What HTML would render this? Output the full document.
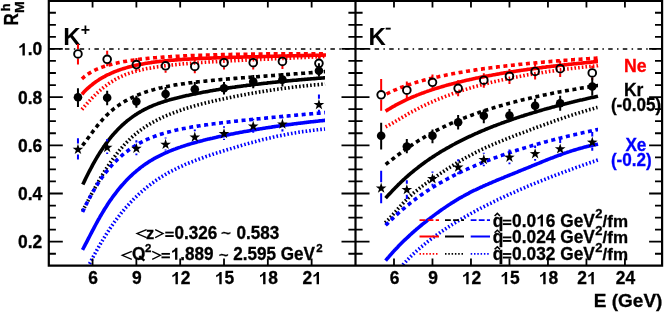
<!DOCTYPE html>
<html><head><meta charset="utf-8"><title>R_M^h</title>
<style>html,body{margin:0;padding:0;background:#fff;overflow:hidden}svg{will-change:transform}body{width:664px;height:312px;position:relative;font-family:"Liberation Sans",sans-serif}</style>
</head><body>
<svg width="664" height="312" viewBox="0 0 664 312" style="position:absolute;left:0;top:0;display:block" font-family="'Liberation Sans', sans-serif" font-weight="bold">
<rect x="0" y="0" width="664" height="312" fill="#fff"/>
<defs><clipPath id="cl"><rect x="48.8" y="0" width="306.7" height="265.6"/></clipPath><clipPath id="cr"><rect x="355.5" y="0" width="306.6" height="265.6"/></clipPath></defs>
<path d="M50.15,49.0 H355.5" stroke="#000" stroke-width="1.6" stroke-dasharray="4.5 4.4 1.5 4.35" fill="none"/>
<path d="M360,49.0 H662.1" stroke="#000" stroke-width="1.6" stroke-dasharray="4.5 4.3 1.5 4.3" fill="none"/>
<g clip-path="url(#cl)" fill="none">
<path d="M81.9,109.5 L82.9,108.3 L83.9,107.2 L84.9,106.0 L85.9,104.9 L86.9,103.7 L87.9,102.6 L88.9,101.5 L89.9,100.4 L90.9,99.3 L91.9,98.2 L92.9,97.2 L93.9,96.2 L94.9,95.2 L95.9,94.2 L96.9,93.2 L97.9,92.3 L98.9,91.4 L99.9,90.5 L100.9,89.7 L101.9,88.8 L102.9,88.0 L103.9,87.2 L104.9,86.4 L105.9,85.7 L106.9,84.9 L107.9,84.2 L108.9,83.5 L109.9,82.9 L110.9,82.2 L111.9,81.6 L112.9,81.0 L113.9,80.4 L114.9,79.8 L115.9,79.2 L116.9,78.7 L117.9,78.2 L118.9,77.6 L119.9,77.2 L120.9,76.7 L121.9,76.2 L122.9,75.8 L123.9,75.4 L124.9,74.9 L125.9,74.5 L126.9,74.2 L127.9,73.8 L128.9,73.4 L129.9,73.1 L130.9,72.7 L131.9,72.4 L132.9,72.1 L133.9,71.8 L134.9,71.5 L135.9,71.2 L136.9,71.0 L137.9,70.7 L138.9,70.4 L139.9,70.2 L140.9,69.9 L141.9,69.7 L142.9,69.5 L143.9,69.3 L144.9,69.0 L145.9,68.8 L146.9,68.6 L147.9,68.4 L148.9,68.2 L149.9,68.1 L150.9,67.9 L151.9,67.7 L152.9,67.5 L153.9,67.4 L154.9,67.2 L155.9,67.0 L156.9,66.9 L157.9,66.7 L158.9,66.6 L159.9,66.4 L160.9,66.3 L161.9,66.2 L162.9,66.0 L163.9,65.9 L164.9,65.8 L165.9,65.7 L166.9,65.5 L167.9,65.4 L168.9,65.3 L169.9,65.2 L170.9,65.1 L171.9,65.0 L172.9,64.9 L173.9,64.8 L174.9,64.7 L175.9,64.6 L176.9,64.5 L177.9,64.4 L178.9,64.3 L179.9,64.2 L180.9,64.1 L181.9,64.0 L182.9,63.9 L183.9,63.8 L184.9,63.7 L185.9,63.7 L186.9,63.6 L187.9,63.5 L188.9,63.4 L189.9,63.3 L190.9,63.3 L191.9,63.2 L192.9,63.1 L193.9,63.0 L194.9,63.0 L195.9,62.9 L196.9,62.8 L197.9,62.8 L198.9,62.7 L199.9,62.6 L200.9,62.5 L201.9,62.5 L202.9,62.4 L203.9,62.4 L204.9,62.3 L205.9,62.2 L206.9,62.2 L207.9,62.1 L208.9,62.0 L209.9,62.0 L210.9,61.9 L211.9,61.9 L212.9,61.8 L213.9,61.8 L214.9,61.7 L215.9,61.6 L216.9,61.6 L217.9,61.5 L218.9,61.5 L219.9,61.4 L220.9,61.4 L221.9,61.3 L222.9,61.3 L223.9,61.2 L224.9,61.2 L225.9,61.1 L226.9,61.1 L227.9,61.0 L228.9,60.9 L229.9,60.9 L230.9,60.8 L231.9,60.8 L232.9,60.7 L233.9,60.7 L234.9,60.6 L235.9,60.6 L236.9,60.6 L237.9,60.5 L238.9,60.5 L239.9,60.4 L240.9,60.4 L241.9,60.3 L242.9,60.3 L243.9,60.2 L244.9,60.2 L245.9,60.1 L246.9,60.1 L247.9,60.0 L248.9,60.0 L249.9,59.9 L250.9,59.9 L251.9,59.8 L252.9,59.8 L253.9,59.7 L254.9,59.7 L255.9,59.7 L256.9,59.6 L257.9,59.6 L258.9,59.5 L259.9,59.5 L260.9,59.4 L261.9,59.4 L262.9,59.3 L263.9,59.3 L264.9,59.2 L265.9,59.2 L266.9,59.1 L267.9,59.1 L268.9,59.1 L269.9,59.0 L270.9,59.0 L271.9,58.9 L272.9,58.9 L273.9,58.8 L274.9,58.8 L275.9,58.7 L276.9,58.7 L277.9,58.6 L278.9,58.6 L279.9,58.6 L280.9,58.5 L281.9,58.5 L282.9,58.4 L283.9,58.4 L284.9,58.3 L285.9,58.3 L286.9,58.2 L287.9,58.2 L288.9,58.1 L289.9,58.1 L290.9,58.1 L291.9,58.0 L292.9,58.0 L293.9,57.9 L294.9,57.9 L295.9,57.8 L296.9,57.8 L297.9,57.7 L298.9,57.7 L299.9,57.6 L300.9,57.6 L301.9,57.5 L302.9,57.5 L303.9,57.4 L304.9,57.4 L305.9,57.4 L306.9,57.3 L307.9,57.3 L308.9,57.2 L309.9,57.2 L310.9,57.1 L311.9,57.1 L312.9,57.0 L313.9,57.0 L314.9,56.9 L315.9,56.9 L316.9,56.8 L317.9,56.8 L318.9,56.7 L319.9,56.7 L320.9,56.6 L321.9,56.6 L322.9,56.5 L323.9,56.5 L324.9,56.5 L325.9,56.4 L326.0,56.4" stroke="#ff0000" stroke-width="3.6" stroke-dasharray="1.6 2.1"/>
<path d="M81.9,94.3 L82.9,93.2 L83.9,92.1 L84.9,91.1 L85.9,90.1 L86.9,89.1 L87.9,88.2 L88.9,87.3 L89.9,86.4 L90.9,85.6 L91.9,84.8 L92.9,84.0 L93.9,83.2 L94.9,82.5 L95.9,81.8 L96.9,81.1 L97.9,80.4 L98.9,79.8 L99.9,79.1 L100.9,78.5 L101.9,77.9 L102.9,77.4 L103.9,76.8 L104.9,76.3 L105.9,75.7 L106.9,75.2 L107.9,74.7 L108.9,74.3 L109.9,73.8 L110.9,73.3 L111.9,72.9 L112.9,72.5 L113.9,72.0 L114.9,71.6 L115.9,71.2 L116.9,70.9 L117.9,70.5 L118.9,70.1 L119.9,69.8 L120.9,69.4 L121.9,69.1 L122.9,68.8 L123.9,68.5 L124.9,68.2 L125.9,67.9 L126.9,67.6 L127.9,67.3 L128.9,67.0 L129.9,66.7 L130.9,66.5 L131.9,66.2 L132.9,66.0 L133.9,65.7 L134.9,65.5 L135.9,65.3 L136.9,65.1 L137.9,64.9 L138.9,64.6 L139.9,64.4 L140.9,64.2 L141.9,64.1 L142.9,63.9 L143.9,63.7 L144.9,63.5 L145.9,63.3 L146.9,63.2 L147.9,63.0 L148.9,62.9 L149.9,62.7 L150.9,62.6 L151.9,62.4 L152.9,62.3 L153.9,62.1 L154.9,62.0 L155.9,61.9 L156.9,61.8 L157.9,61.6 L158.9,61.5 L159.9,61.4 L160.9,61.3 L161.9,61.2 L162.9,61.1 L163.9,61.0 L164.9,60.9 L165.9,60.8 L166.9,60.7 L167.9,60.6 L168.9,60.5 L169.9,60.4 L170.9,60.3 L171.9,60.2 L172.9,60.2 L173.9,60.1 L174.9,60.0 L175.9,59.9 L176.9,59.9 L177.9,59.8 L178.9,59.7 L179.9,59.6 L180.9,59.6 L181.9,59.5 L182.9,59.4 L183.9,59.4 L184.9,59.3 L185.9,59.3 L186.9,59.2 L187.9,59.1 L188.9,59.1 L189.9,59.0 L190.9,59.0 L191.9,58.9 L192.9,58.9 L193.9,58.8 L194.9,58.8 L195.9,58.7 L196.9,58.7 L197.9,58.6 L198.9,58.6 L199.9,58.5 L200.9,58.5 L201.9,58.4 L202.9,58.4 L203.9,58.3 L204.9,58.3 L205.9,58.3 L206.9,58.2 L207.9,58.2 L208.9,58.1 L209.9,58.1 L210.9,58.1 L211.9,58.0 L212.9,58.0 L213.9,57.9 L214.9,57.9 L215.9,57.9 L216.9,57.8 L217.9,57.8 L218.9,57.8 L219.9,57.7 L220.9,57.7 L221.9,57.7 L222.9,57.6 L223.9,57.6 L224.9,57.6 L225.9,57.5 L226.9,57.5 L227.9,57.5 L228.9,57.4 L229.9,57.4 L230.9,57.4 L231.9,57.4 L232.9,57.3 L233.9,57.3 L234.9,57.3 L235.9,57.2 L236.9,57.2 L237.9,57.2 L238.9,57.2 L239.9,57.1 L240.9,57.1 L241.9,57.1 L242.9,57.0 L243.9,57.0 L244.9,57.0 L245.9,57.0 L246.9,56.9 L247.9,56.9 L248.9,56.9 L249.9,56.9 L250.9,56.8 L251.9,56.8 L252.9,56.8 L253.9,56.8 L254.9,56.7 L255.9,56.7 L256.9,56.7 L257.9,56.7 L258.9,56.6 L259.9,56.6 L260.9,56.6 L261.9,56.6 L262.9,56.5 L263.9,56.5 L264.9,56.5 L265.9,56.5 L266.9,56.4 L267.9,56.4 L268.9,56.4 L269.9,56.4 L270.9,56.3 L271.9,56.3 L272.9,56.3 L273.9,56.3 L274.9,56.2 L275.9,56.2 L276.9,56.2 L277.9,56.2 L278.9,56.1 L279.9,56.1 L280.9,56.1 L281.9,56.1 L282.9,56.1 L283.9,56.0 L284.9,56.0 L285.9,56.0 L286.9,56.0 L287.9,55.9 L288.9,55.9 L289.9,55.9 L290.9,55.9 L291.9,55.8 L292.9,55.8 L293.9,55.8 L294.9,55.8 L295.9,55.7 L296.9,55.7 L297.9,55.7 L298.9,55.7 L299.9,55.6 L300.9,55.6 L301.9,55.6 L302.9,55.6 L303.9,55.5 L304.9,55.5 L305.9,55.5 L306.9,55.5 L307.9,55.5 L308.9,55.4 L309.9,55.4 L310.9,55.4 L311.9,55.4 L312.9,55.3 L313.9,55.3 L314.9,55.3 L315.9,55.3 L316.9,55.2 L317.9,55.2 L318.9,55.2 L319.9,55.2 L320.9,55.1 L321.9,55.1 L322.9,55.1 L323.9,55.1 L324.9,55.0 L325.9,55.0 L326.0,55.0" stroke="#ff0000" stroke-width="3.6"/>
<path d="M81.9,78.9 L82.9,78.0 L83.9,77.1 L84.9,76.3 L85.9,75.6 L86.9,74.8 L87.9,74.1 L88.9,73.5 L89.9,72.9 L90.9,72.3 L91.9,71.7 L92.9,71.2 L93.9,70.6 L94.9,70.1 L95.9,69.7 L96.9,69.2 L97.9,68.8 L98.9,68.4 L99.9,68.0 L100.9,67.6 L101.9,67.2 L102.9,66.9 L103.9,66.5 L104.9,66.2 L105.9,65.9 L106.9,65.6 L107.9,65.3 L108.9,65.0 L109.9,64.7 L110.9,64.4 L111.9,64.2 L112.9,63.9 L113.9,63.7 L114.9,63.4 L115.9,63.2 L116.9,63.0 L117.9,62.8 L118.9,62.6 L119.9,62.4 L120.9,62.2 L121.9,62.0 L122.9,61.8 L123.9,61.6 L124.9,61.4 L125.9,61.2 L126.9,61.1 L127.9,60.9 L128.9,60.8 L129.9,60.6 L130.9,60.5 L131.9,60.3 L132.9,60.2 L133.9,60.0 L134.9,59.9 L135.9,59.8 L136.9,59.6 L137.9,59.5 L138.9,59.4 L139.9,59.3 L140.9,59.1 L141.9,59.0 L142.9,58.9 L143.9,58.8 L144.9,58.7 L145.9,58.6 L146.9,58.5 L147.9,58.4 L148.9,58.3 L149.9,58.2 L150.9,58.1 L151.9,58.0 L152.9,57.9 L153.9,57.8 L154.9,57.8 L155.9,57.7 L156.9,57.6 L157.9,57.5 L158.9,57.4 L159.9,57.4 L160.9,57.3 L161.9,57.2 L162.9,57.1 L163.9,57.1 L164.9,57.0 L165.9,56.9 L166.9,56.9 L167.9,56.8 L168.9,56.7 L169.9,56.7 L170.9,56.6 L171.9,56.6 L172.9,56.5 L173.9,56.4 L174.9,56.4 L175.9,56.3 L176.9,56.3 L177.9,56.2 L178.9,56.2 L179.9,56.1 L180.9,56.1 L181.9,56.0 L182.9,56.0 L183.9,55.9 L184.9,55.9 L185.9,55.8 L186.9,55.8 L187.9,55.7 L188.9,55.7 L189.9,55.7 L190.9,55.6 L191.9,55.6 L192.9,55.5 L193.9,55.5 L194.9,55.5 L195.9,55.4 L196.9,55.4 L197.9,55.3 L198.9,55.3 L199.9,55.3 L200.9,55.2 L201.9,55.2 L202.9,55.2 L203.9,55.1 L204.9,55.1 L205.9,55.1 L206.9,55.0 L207.9,55.0 L208.9,55.0 L209.9,55.0 L210.9,54.9 L211.9,54.9 L212.9,54.9 L213.9,54.8 L214.9,54.8 L215.9,54.8 L216.9,54.8 L217.9,54.7 L218.9,54.7 L219.9,54.7 L220.9,54.7 L221.9,54.6 L222.9,54.6 L223.9,54.6 L224.9,54.6 L225.9,54.6 L226.9,54.5 L227.9,54.5 L228.9,54.5 L229.9,54.5 L230.9,54.5 L231.9,54.4 L232.9,54.4 L233.9,54.4 L234.9,54.4 L235.9,54.4 L236.9,54.3 L237.9,54.3 L238.9,54.3 L239.9,54.3 L240.9,54.3 L241.9,54.3 L242.9,54.2 L243.9,54.2 L244.9,54.2 L245.9,54.2 L246.9,54.2 L247.9,54.2 L248.9,54.2 L249.9,54.1 L250.9,54.1 L251.9,54.1 L252.9,54.1 L253.9,54.1 L254.9,54.1 L255.9,54.1 L256.9,54.1 L257.9,54.0 L258.9,54.0 L259.9,54.0 L260.9,54.0 L261.9,54.0 L262.9,54.0 L263.9,54.0 L264.9,54.0 L265.9,54.0 L266.9,53.9 L267.9,53.9 L268.9,53.9 L269.9,53.9 L270.9,53.9 L271.9,53.9 L272.9,53.9 L273.9,53.9 L274.9,53.9 L275.9,53.9 L276.9,53.9 L277.9,53.9 L278.9,53.8 L279.9,53.8 L280.9,53.8 L281.9,53.8 L282.9,53.8 L283.9,53.8 L284.9,53.8 L285.9,53.8 L286.9,53.8 L287.9,53.8 L288.9,53.8 L289.9,53.8 L290.9,53.8 L291.9,53.8 L292.9,53.8 L293.9,53.8 L294.9,53.7 L295.9,53.7 L296.9,53.7 L297.9,53.7 L298.9,53.7 L299.9,53.7 L300.9,53.7 L301.9,53.7 L302.9,53.7 L303.9,53.7 L304.9,53.7 L305.9,53.7 L306.9,53.7 L307.9,53.7 L308.9,53.7 L309.9,53.7 L310.9,53.7 L311.9,53.7 L312.9,53.7 L313.9,53.7 L314.9,53.7 L315.9,53.7 L316.9,53.7 L317.9,53.7 L318.9,53.7 L319.9,53.7 L320.9,53.7 L321.9,53.7 L322.9,53.7 L323.9,53.7 L324.9,53.7 L325.9,53.7 L326.0,53.7" stroke="#ff0000" stroke-width="3.6" stroke-dasharray="4 3.55"/>
<path d="M82.5,210.9 L83.5,209.2 L84.5,207.3 L85.5,205.5 L86.5,203.6 L87.5,201.7 L88.5,199.8 L89.5,197.9 L90.5,196.1 L91.5,194.2 L92.5,192.3 L93.5,190.5 L94.5,188.6 L95.5,186.8 L96.5,185.0 L97.5,183.2 L98.5,181.5 L99.5,179.7 L100.5,178.0 L101.5,176.4 L102.5,174.7 L103.5,173.1 L104.5,171.5 L105.5,169.9 L106.5,168.3 L107.5,166.8 L108.5,165.3 L109.5,163.8 L110.5,162.3 L111.5,160.9 L112.5,159.5 L113.5,158.1 L114.5,156.8 L115.5,155.4 L116.5,154.1 L117.5,152.8 L118.5,151.6 L119.5,150.3 L120.5,149.1 L121.5,148.0 L122.5,146.8 L123.5,145.7 L124.5,144.6 L125.5,143.5 L126.5,142.5 L127.5,141.5 L128.5,140.5 L129.5,139.5 L130.5,138.5 L131.5,137.6 L132.5,136.7 L133.5,135.8 L134.5,135.0 L135.5,134.1 L136.5,133.3 L137.5,132.5 L138.5,131.7 L139.5,131.0 L140.5,130.2 L141.5,129.5 L142.5,128.8 L143.5,128.1 L144.5,127.4 L145.5,126.7 L146.5,126.1 L147.5,125.4 L148.5,124.8 L149.5,124.2 L150.5,123.6 L151.5,123.0 L152.5,122.4 L153.5,121.9 L154.5,121.3 L155.5,120.8 L156.5,120.3 L157.5,119.8 L158.5,119.3 L159.5,118.8 L160.5,118.3 L161.5,117.8 L162.5,117.4 L163.5,116.9 L164.5,116.5 L165.5,116.0 L166.5,115.6 L167.5,115.2 L168.5,114.7 L169.5,114.3 L170.5,113.9 L171.5,113.5 L172.5,113.2 L173.5,112.8 L174.5,112.4 L175.5,112.0 L176.5,111.7 L177.5,111.3 L178.5,110.9 L179.5,110.6 L180.5,110.3 L181.5,109.9 L182.5,109.6 L183.5,109.3 L184.5,108.9 L185.5,108.6 L186.5,108.3 L187.5,108.0 L188.5,107.7 L189.5,107.4 L190.5,107.1 L191.5,106.8 L192.5,106.5 L193.5,106.2 L194.5,105.9 L195.5,105.7 L196.5,105.4 L197.5,105.1 L198.5,104.8 L199.5,104.6 L200.5,104.3 L201.5,104.0 L202.5,103.8 L203.5,103.5 L204.5,103.3 L205.5,103.0 L206.5,102.8 L207.5,102.5 L208.5,102.3 L209.5,102.0 L210.5,101.8 L211.5,101.6 L212.5,101.3 L213.5,101.1 L214.5,100.9 L215.5,100.6 L216.5,100.4 L217.5,100.2 L218.5,100.0 L219.5,99.7 L220.5,99.5 L221.5,99.3 L222.5,99.1 L223.5,98.9 L224.5,98.7 L225.5,98.4 L226.5,98.2 L227.5,98.0 L228.5,97.8 L229.5,97.6 L230.5,97.4 L231.5,97.2 L232.5,97.0 L233.5,96.8 L234.5,96.6 L235.5,96.4 L236.5,96.2 L237.5,96.0 L238.5,95.8 L239.5,95.6 L240.5,95.4 L241.5,95.2 L242.5,95.1 L243.5,94.9 L244.5,94.7 L245.5,94.5 L246.5,94.3 L247.5,94.1 L248.5,93.9 L249.5,93.8 L250.5,93.6 L251.5,93.4 L252.5,93.2 L253.5,93.1 L254.5,92.9 L255.5,92.7 L256.5,92.5 L257.5,92.4 L258.5,92.2 L259.5,92.0 L260.5,91.9 L261.5,91.7 L262.5,91.5 L263.5,91.4 L264.5,91.2 L265.5,91.1 L266.5,90.9 L267.5,90.8 L268.5,90.6 L269.5,90.4 L270.5,90.3 L271.5,90.1 L272.5,90.0 L273.5,89.8 L274.5,89.7 L275.5,89.6 L276.5,89.4 L277.5,89.3 L278.5,89.1 L279.5,89.0 L280.5,88.9 L281.5,88.7 L282.5,88.6 L283.5,88.4 L284.5,88.3 L285.5,88.2 L286.5,88.1 L287.5,87.9 L288.5,87.8 L289.5,87.7 L290.5,87.5 L291.5,87.4 L292.5,87.3 L293.5,87.2 L294.5,87.1 L295.5,86.9 L296.5,86.8 L297.5,86.7 L298.5,86.6 L299.5,86.5 L300.5,86.4 L301.5,86.3 L302.5,86.2 L303.5,86.0 L304.5,85.9 L305.5,85.8 L306.5,85.7 L307.5,85.6 L308.5,85.5 L309.5,85.4 L310.5,85.3 L311.5,85.2 L312.5,85.1 L313.5,85.0 L314.5,84.9 L315.5,84.9 L316.5,84.8 L317.5,84.7 L318.5,84.6 L319.5,84.5 L320.5,84.4 L321.5,84.3 L322.5,84.2 L323.5,84.2 L324.5,84.1 L325.0,84.0" stroke="#000000" stroke-width="3.6" stroke-dasharray="1.6 2.1"/>
<path d="M82.8,184.5 L83.8,182.4 L84.8,180.4 L85.8,178.3 L86.8,176.3 L87.8,174.3 L88.8,172.3 L89.8,170.4 L90.8,168.5 L91.8,166.6 L92.8,164.7 L93.8,162.9 L94.8,161.1 L95.8,159.4 L96.8,157.7 L97.8,156.0 L98.8,154.4 L99.8,152.8 L100.8,151.2 L101.8,149.7 L102.8,148.2 L103.8,146.7 L104.8,145.3 L105.8,143.9 L106.8,142.6 L107.8,141.2 L108.8,139.9 L109.8,138.7 L110.8,137.4 L111.8,136.2 L112.8,135.0 L113.8,133.9 L114.8,132.8 L115.8,131.7 L116.8,130.6 L117.8,129.5 L118.8,128.5 L119.8,127.5 L120.8,126.6 L121.8,125.6 L122.8,124.7 L123.8,123.8 L124.8,122.9 L125.8,122.1 L126.8,121.2 L127.8,120.4 L128.8,119.6 L129.8,118.9 L130.8,118.1 L131.8,117.4 L132.8,116.6 L133.8,115.9 L134.8,115.3 L135.8,114.6 L136.8,114.0 L137.8,113.3 L138.8,112.7 L139.8,112.1 L140.8,111.5 L141.8,111.0 L142.8,110.4 L143.8,109.9 L144.8,109.3 L145.8,108.8 L146.8,108.3 L147.8,107.9 L148.8,107.4 L149.8,106.9 L150.8,106.5 L151.8,106.1 L152.8,105.6 L153.8,105.2 L154.8,104.8 L155.8,104.4 L156.8,104.1 L157.8,103.7 L158.8,103.3 L159.8,103.0 L160.8,102.6 L161.8,102.3 L162.8,102.0 L163.8,101.6 L164.8,101.3 L165.8,101.0 L166.8,100.7 L167.8,100.4 L168.8,100.1 L169.8,99.8 L170.8,99.6 L171.8,99.3 L172.8,99.0 L173.8,98.8 L174.8,98.5 L175.8,98.2 L176.8,98.0 L177.8,97.7 L178.8,97.5 L179.8,97.2 L180.8,97.0 L181.8,96.8 L182.8,96.5 L183.8,96.3 L184.8,96.1 L185.8,95.8 L186.8,95.6 L187.8,95.4 L188.8,95.2 L189.8,94.9 L190.8,94.7 L191.8,94.5 L192.8,94.3 L193.8,94.1 L194.8,93.9 L195.8,93.7 L196.8,93.5 L197.8,93.3 L198.8,93.1 L199.8,92.9 L200.8,92.7 L201.8,92.5 L202.8,92.3 L203.8,92.1 L204.8,91.9 L205.8,91.7 L206.8,91.6 L207.8,91.4 L208.8,91.2 L209.8,91.0 L210.8,90.8 L211.8,90.7 L212.8,90.5 L213.8,90.3 L214.8,90.2 L215.8,90.0 L216.8,89.8 L217.8,89.7 L218.8,89.5 L219.8,89.3 L220.8,89.2 L221.8,89.0 L222.8,88.9 L223.8,88.7 L224.8,88.5 L225.8,88.4 L226.8,88.2 L227.8,88.1 L228.8,87.9 L229.8,87.8 L230.8,87.6 L231.8,87.5 L232.8,87.3 L233.8,87.2 L234.8,87.1 L235.8,86.9 L236.8,86.8 L237.8,86.6 L238.8,86.5 L239.8,86.4 L240.8,86.2 L241.8,86.1 L242.8,86.0 L243.8,85.8 L244.8,85.7 L245.8,85.6 L246.8,85.4 L247.8,85.3 L248.8,85.2 L249.8,85.1 L250.8,84.9 L251.8,84.8 L252.8,84.7 L253.8,84.6 L254.8,84.4 L255.8,84.3 L256.8,84.2 L257.8,84.1 L258.8,84.0 L259.8,83.9 L260.8,83.7 L261.8,83.6 L262.8,83.5 L263.8,83.4 L264.8,83.3 L265.8,83.2 L266.8,83.1 L267.8,82.9 L268.8,82.8 L269.8,82.7 L270.8,82.6 L271.8,82.5 L272.8,82.4 L273.8,82.3 L274.8,82.2 L275.8,82.1 L276.8,82.0 L277.8,81.9 L278.8,81.8 L279.8,81.7 L280.8,81.6 L281.8,81.5 L282.8,81.4 L283.8,81.3 L284.8,81.2 L285.8,81.1 L286.8,81.0 L287.8,80.9 L288.8,80.8 L289.8,80.7 L290.8,80.6 L291.8,80.5 L292.8,80.4 L293.8,80.3 L294.8,80.2 L295.8,80.2 L296.8,80.1 L297.8,80.0 L298.8,79.9 L299.8,79.8 L300.8,79.7 L301.8,79.6 L302.8,79.5 L303.8,79.5 L304.8,79.4 L305.8,79.3 L306.8,79.2 L307.8,79.1 L308.8,79.0 L309.8,79.0 L310.8,78.9 L311.8,78.8 L312.8,78.7 L313.8,78.6 L314.8,78.6 L315.8,78.5 L316.8,78.4 L317.8,78.3 L318.8,78.3 L319.8,78.2 L320.8,78.1 L321.8,78.0 L322.8,78.0 L323.8,77.9 L324.8,77.8 L325.0,77.8" stroke="#000000" stroke-width="3.6"/>
<path d="M82.5,145.5 L83.5,144.2 L84.5,142.9 L85.5,141.6 L86.5,140.2 L87.5,138.9 L88.5,137.5 L89.5,136.1 L90.5,134.7 L91.5,133.3 L92.5,132.0 L93.5,130.6 L94.5,129.3 L95.5,128.0 L96.5,126.8 L97.5,125.5 L98.5,124.3 L99.5,123.1 L100.5,121.9 L101.5,120.8 L102.5,119.6 L103.5,118.5 L104.5,117.5 L105.5,116.4 L106.5,115.4 L107.5,114.5 L108.5,113.5 L109.5,112.6 L110.5,111.7 L111.5,110.8 L112.5,109.9 L113.5,109.1 L114.5,108.3 L115.5,107.6 L116.5,106.8 L117.5,106.1 L118.5,105.4 L119.5,104.7 L120.5,104.0 L121.5,103.4 L122.5,102.7 L123.5,102.1 L124.5,101.5 L125.5,100.9 L126.5,100.4 L127.5,99.8 L128.5,99.3 L129.5,98.8 L130.5,98.3 L131.5,97.8 L132.5,97.3 L133.5,96.8 L134.5,96.4 L135.5,95.9 L136.5,95.5 L137.5,95.1 L138.5,94.7 L139.5,94.3 L140.5,93.9 L141.5,93.5 L142.5,93.1 L143.5,92.8 L144.5,92.4 L145.5,92.1 L146.5,91.8 L147.5,91.4 L148.5,91.1 L149.5,90.8 L150.5,90.5 L151.5,90.2 L152.5,89.9 L153.5,89.7 L154.5,89.4 L155.5,89.1 L156.5,88.9 L157.5,88.6 L158.5,88.4 L159.5,88.1 L160.5,87.9 L161.5,87.7 L162.5,87.4 L163.5,87.2 L164.5,87.0 L165.5,86.8 L166.5,86.6 L167.5,86.4 L168.5,86.2 L169.5,86.0 L170.5,85.8 L171.5,85.6 L172.5,85.5 L173.5,85.3 L174.5,85.1 L175.5,84.9 L176.5,84.8 L177.5,84.6 L178.5,84.5 L179.5,84.3 L180.5,84.2 L181.5,84.0 L182.5,83.9 L183.5,83.7 L184.5,83.6 L185.5,83.4 L186.5,83.3 L187.5,83.2 L188.5,83.0 L189.5,82.9 L190.5,82.8 L191.5,82.7 L192.5,82.5 L193.5,82.4 L194.5,82.3 L195.5,82.2 L196.5,82.1 L197.5,81.9 L198.5,81.8 L199.5,81.7 L200.5,81.6 L201.5,81.5 L202.5,81.4 L203.5,81.3 L204.5,81.2 L205.5,81.1 L206.5,81.0 L207.5,80.9 L208.5,80.8 L209.5,80.7 L210.5,80.6 L211.5,80.5 L212.5,80.4 L213.5,80.3 L214.5,80.2 L215.5,80.1 L216.5,80.0 L217.5,79.9 L218.5,79.8 L219.5,79.7 L220.5,79.6 L221.5,79.5 L222.5,79.5 L223.5,79.4 L224.5,79.3 L225.5,79.2 L226.5,79.1 L227.5,79.0 L228.5,78.9 L229.5,78.9 L230.5,78.8 L231.5,78.7 L232.5,78.6 L233.5,78.5 L234.5,78.4 L235.5,78.4 L236.5,78.3 L237.5,78.2 L238.5,78.1 L239.5,78.0 L240.5,78.0 L241.5,77.9 L242.5,77.8 L243.5,77.7 L244.5,77.7 L245.5,77.6 L246.5,77.5 L247.5,77.4 L248.5,77.3 L249.5,77.3 L250.5,77.2 L251.5,77.1 L252.5,77.0 L253.5,77.0 L254.5,76.9 L255.5,76.8 L256.5,76.7 L257.5,76.7 L258.5,76.6 L259.5,76.5 L260.5,76.4 L261.5,76.4 L262.5,76.3 L263.5,76.2 L264.5,76.1 L265.5,76.1 L266.5,76.0 L267.5,75.9 L268.5,75.8 L269.5,75.8 L270.5,75.7 L271.5,75.6 L272.5,75.5 L273.5,75.5 L274.5,75.4 L275.5,75.3 L276.5,75.2 L277.5,75.2 L278.5,75.1 L279.5,75.0 L280.5,75.0 L281.5,74.9 L282.5,74.8 L283.5,74.7 L284.5,74.7 L285.5,74.6 L286.5,74.5 L287.5,74.4 L288.5,74.4 L289.5,74.3 L290.5,74.2 L291.5,74.1 L292.5,74.1 L293.5,74.0 L294.5,73.9 L295.5,73.8 L296.5,73.8 L297.5,73.7 L298.5,73.6 L299.5,73.5 L300.5,73.5 L301.5,73.4 L302.5,73.3 L303.5,73.2 L304.5,73.2 L305.5,73.1 L306.5,73.0 L307.5,72.9 L308.5,72.9 L309.5,72.8 L310.5,72.7 L311.5,72.6 L312.5,72.6 L313.5,72.5 L314.5,72.4 L315.5,72.3 L316.5,72.2 L317.5,72.2 L318.5,72.1 L319.5,72.0 L320.5,71.9 L321.5,71.9 L322.5,71.8 L323.5,71.7 L324.5,71.6 L325.0,71.6" stroke="#000000" stroke-width="3.6" stroke-dasharray="4 3.55"/>
<path d="M84.0,273.5 L85.0,271.8 L86.0,270.0 L87.0,268.3 L88.0,266.4 L89.0,264.6 L90.0,262.8 L91.0,260.9 L92.0,259.1 L93.0,257.2 L94.0,255.4 L95.0,253.5 L96.0,251.7 L97.0,249.9 L98.0,248.2 L99.0,246.4 L100.0,244.7 L101.0,242.9 L102.0,241.3 L103.0,239.6 L104.0,237.9 L105.0,236.3 L106.0,234.7 L107.0,233.1 L108.0,231.6 L109.0,230.0 L110.0,228.5 L111.0,227.0 L112.0,225.6 L113.0,224.1 L114.0,222.7 L115.0,221.3 L116.0,220.0 L117.0,218.6 L118.0,217.3 L119.0,216.0 L120.0,214.7 L121.0,213.4 L122.0,212.2 L123.0,211.0 L124.0,209.8 L125.0,208.6 L126.0,207.4 L127.0,206.3 L128.0,205.2 L129.0,204.1 L130.0,203.0 L131.0,201.9 L132.0,200.9 L133.0,199.9 L134.0,198.8 L135.0,197.8 L136.0,196.9 L137.0,195.9 L138.0,195.0 L139.0,194.0 L140.0,193.1 L141.0,192.2 L142.0,191.3 L143.0,190.5 L144.0,189.6 L145.0,188.8 L146.0,187.9 L147.0,187.1 L148.0,186.3 L149.0,185.6 L150.0,184.8 L151.0,184.0 L152.0,183.3 L153.0,182.6 L154.0,181.8 L155.0,181.1 L156.0,180.4 L157.0,179.7 L158.0,179.1 L159.0,178.4 L160.0,177.8 L161.0,177.1 L162.0,176.5 L163.0,175.9 L164.0,175.3 L165.0,174.7 L166.0,174.1 L167.0,173.5 L168.0,173.0 L169.0,172.4 L170.0,171.9 L171.0,171.3 L172.0,170.8 L173.0,170.3 L174.0,169.8 L175.0,169.3 L176.0,168.8 L177.0,168.3 L178.0,167.8 L179.0,167.3 L180.0,166.9 L181.0,166.4 L182.0,166.0 L183.0,165.5 L184.0,165.1 L185.0,164.6 L186.0,164.2 L187.0,163.8 L188.0,163.4 L189.0,163.0 L190.0,162.6 L191.0,162.2 L192.0,161.8 L193.0,161.4 L194.0,161.0 L195.0,160.6 L196.0,160.2 L197.0,159.8 L198.0,159.5 L199.0,159.1 L200.0,158.7 L201.0,158.4 L202.0,158.0 L203.0,157.7 L204.0,157.3 L205.0,157.0 L206.0,156.6 L207.0,156.3 L208.0,155.9 L209.0,155.6 L210.0,155.2 L211.0,154.9 L212.0,154.6 L213.0,154.2 L214.0,153.9 L215.0,153.6 L216.0,153.3 L217.0,152.9 L218.0,152.6 L219.0,152.3 L220.0,152.0 L221.0,151.7 L222.0,151.3 L223.0,151.0 L224.0,150.7 L225.0,150.4 L226.0,150.1 L227.0,149.8 L228.0,149.5 L229.0,149.2 L230.0,148.9 L231.0,148.6 L232.0,148.3 L233.0,148.0 L234.0,147.7 L235.0,147.4 L236.0,147.1 L237.0,146.8 L238.0,146.5 L239.0,146.2 L240.0,145.9 L241.0,145.6 L242.0,145.3 L243.0,145.0 L244.0,144.7 L245.0,144.4 L246.0,144.1 L247.0,143.9 L248.0,143.6 L249.0,143.3 L250.0,143.0 L251.0,142.7 L252.0,142.5 L253.0,142.2 L254.0,141.9 L255.0,141.7 L256.0,141.4 L257.0,141.1 L258.0,140.9 L259.0,140.6 L260.0,140.4 L261.0,140.1 L262.0,139.9 L263.0,139.6 L264.0,139.4 L265.0,139.1 L266.0,138.9 L267.0,138.6 L268.0,138.4 L269.0,138.1 L270.0,137.9 L271.0,137.7 L272.0,137.5 L273.0,137.2 L274.0,137.0 L275.0,136.8 L276.0,136.6 L277.0,136.3 L278.0,136.1 L279.0,135.9 L280.0,135.7 L281.0,135.5 L282.0,135.3 L283.0,135.1 L284.0,134.9 L285.0,134.7 L286.0,134.5 L287.0,134.3 L288.0,134.1 L289.0,133.9 L290.0,133.8 L291.0,133.6 L292.0,133.4 L293.0,133.2 L294.0,133.1 L295.0,132.9 L296.0,132.7 L297.0,132.6 L298.0,132.4 L299.0,132.2 L300.0,132.1 L301.0,131.9 L302.0,131.8 L303.0,131.6 L304.0,131.5 L305.0,131.3 L306.0,131.2 L307.0,131.1 L308.0,130.9 L309.0,130.8 L310.0,130.7 L311.0,130.5 L312.0,130.4 L313.0,130.3 L314.0,130.2 L315.0,130.1 L316.0,129.9 L317.0,129.8 L318.0,129.7 L319.0,129.6 L320.0,129.5 L321.0,129.4 L322.0,129.3 L323.0,129.2 L324.0,129.1 L325.0,129.0" stroke="#0000ff" stroke-width="3.6" stroke-dasharray="1.6 2.1"/>
<path d="M82.5,249.8 L83.5,248.0 L84.5,246.1 L85.5,244.2 L86.5,242.3 L87.5,240.4 L88.5,238.4 L89.5,236.5 L90.5,234.5 L91.5,232.6 L92.5,230.7 L93.5,228.8 L94.5,226.9 L95.5,225.0 L96.5,223.2 L97.5,221.3 L98.5,219.5 L99.5,217.8 L100.5,216.0 L101.5,214.3 L102.5,212.6 L103.5,211.0 L104.5,209.3 L105.5,207.7 L106.5,206.2 L107.5,204.6 L108.5,203.1 L109.5,201.6 L110.5,200.1 L111.5,198.7 L112.5,197.3 L113.5,195.9 L114.5,194.6 L115.5,193.3 L116.5,192.0 L117.5,190.7 L118.5,189.4 L119.5,188.2 L120.5,187.0 L121.5,185.8 L122.5,184.7 L123.5,183.6 L124.5,182.5 L125.5,181.4 L126.5,180.3 L127.5,179.3 L128.5,178.3 L129.5,177.3 L130.5,176.3 L131.5,175.4 L132.5,174.4 L133.5,173.5 L134.5,172.6 L135.5,171.8 L136.5,170.9 L137.5,170.1 L138.5,169.3 L139.5,168.5 L140.5,167.7 L141.5,166.9 L142.5,166.2 L143.5,165.4 L144.5,164.7 L145.5,164.0 L146.5,163.4 L147.5,162.7 L148.5,162.0 L149.5,161.4 L150.5,160.8 L151.5,160.2 L152.5,159.6 L153.5,159.0 L154.5,158.4 L155.5,157.9 L156.5,157.3 L157.5,156.8 L158.5,156.3 L159.5,155.8 L160.5,155.3 L161.5,154.8 L162.5,154.3 L163.5,153.9 L164.5,153.4 L165.5,152.9 L166.5,152.5 L167.5,152.1 L168.5,151.6 L169.5,151.2 L170.5,150.8 L171.5,150.4 L172.5,150.0 L173.5,149.6 L174.5,149.2 L175.5,148.9 L176.5,148.5 L177.5,148.1 L178.5,147.8 L179.5,147.4 L180.5,147.1 L181.5,146.7 L182.5,146.4 L183.5,146.1 L184.5,145.8 L185.5,145.4 L186.5,145.1 L187.5,144.8 L188.5,144.5 L189.5,144.2 L190.5,143.9 L191.5,143.6 L192.5,143.3 L193.5,143.0 L194.5,142.7 L195.5,142.5 L196.5,142.2 L197.5,141.9 L198.5,141.6 L199.5,141.4 L200.5,141.1 L201.5,140.9 L202.5,140.6 L203.5,140.3 L204.5,140.1 L205.5,139.8 L206.5,139.6 L207.5,139.3 L208.5,139.1 L209.5,138.9 L210.5,138.6 L211.5,138.4 L212.5,138.2 L213.5,137.9 L214.5,137.7 L215.5,137.5 L216.5,137.3 L217.5,137.0 L218.5,136.8 L219.5,136.6 L220.5,136.4 L221.5,136.2 L222.5,135.9 L223.5,135.7 L224.5,135.5 L225.5,135.3 L226.5,135.1 L227.5,134.9 L228.5,134.7 L229.5,134.5 L230.5,134.3 L231.5,134.1 L232.5,133.9 L233.5,133.7 L234.5,133.5 L235.5,133.3 L236.5,133.1 L237.5,132.9 L238.5,132.7 L239.5,132.5 L240.5,132.3 L241.5,132.2 L242.5,132.0 L243.5,131.8 L244.5,131.6 L245.5,131.4 L246.5,131.2 L247.5,131.1 L248.5,130.9 L249.5,130.7 L250.5,130.5 L251.5,130.3 L252.5,130.2 L253.5,130.0 L254.5,129.8 L255.5,129.7 L256.5,129.5 L257.5,129.3 L258.5,129.1 L259.5,129.0 L260.5,128.8 L261.5,128.7 L262.5,128.5 L263.5,128.3 L264.5,128.2 L265.5,128.0 L266.5,127.8 L267.5,127.7 L268.5,127.5 L269.5,127.4 L270.5,127.2 L271.5,127.1 L272.5,126.9 L273.5,126.8 L274.5,126.6 L275.5,126.5 L276.5,126.3 L277.5,126.2 L278.5,126.0 L279.5,125.9 L280.5,125.7 L281.5,125.6 L282.5,125.5 L283.5,125.3 L284.5,125.2 L285.5,125.0 L286.5,124.9 L287.5,124.8 L288.5,124.6 L289.5,124.5 L290.5,124.4 L291.5,124.2 L292.5,124.1 L293.5,124.0 L294.5,123.8 L295.5,123.7 L296.5,123.6 L297.5,123.5 L298.5,123.3 L299.5,123.2 L300.5,123.1 L301.5,123.0 L302.5,122.9 L303.5,122.7 L304.5,122.6 L305.5,122.5 L306.5,122.4 L307.5,122.3 L308.5,122.1 L309.5,122.0 L310.5,121.9 L311.5,121.8 L312.5,121.7 L313.5,121.6 L314.5,121.5 L315.5,121.4 L316.5,121.3 L317.5,121.2 L318.5,121.0 L319.5,120.9 L320.5,120.8 L321.5,120.7 L322.5,120.6 L323.5,120.5 L324.5,120.4 L325.0,120.4" stroke="#0000ff" stroke-width="3.6"/>
<path d="M82.5,212.1 L83.5,210.0 L84.5,207.9 L85.5,205.8 L86.5,203.8 L87.5,201.8 L88.5,199.9 L89.5,198.0 L90.5,196.1 L91.5,194.3 L92.5,192.5 L93.5,190.8 L94.5,189.1 L95.5,187.4 L96.5,185.8 L97.5,184.2 L98.5,182.6 L99.5,181.1 L100.5,179.7 L101.5,178.2 L102.5,176.8 L103.5,175.5 L104.5,174.1 L105.5,172.8 L106.5,171.5 L107.5,170.3 L108.5,169.1 L109.5,167.9 L110.5,166.8 L111.5,165.6 L112.5,164.5 L113.5,163.5 L114.5,162.4 L115.5,161.4 L116.5,160.4 L117.5,159.4 L118.5,158.5 L119.5,157.6 L120.5,156.7 L121.5,155.8 L122.5,154.9 L123.5,154.1 L124.5,153.3 L125.5,152.5 L126.5,151.7 L127.5,151.0 L128.5,150.2 L129.5,149.5 L130.5,148.8 L131.5,148.1 L132.5,147.4 L133.5,146.8 L134.5,146.2 L135.5,145.5 L136.5,144.9 L137.5,144.4 L138.5,143.8 L139.5,143.2 L140.5,142.7 L141.5,142.1 L142.5,141.6 L143.5,141.1 L144.5,140.6 L145.5,140.2 L146.5,139.7 L147.5,139.2 L148.5,138.8 L149.5,138.4 L150.5,137.9 L151.5,137.5 L152.5,137.1 L153.5,136.8 L154.5,136.4 L155.5,136.0 L156.5,135.7 L157.5,135.3 L158.5,135.0 L159.5,134.6 L160.5,134.3 L161.5,134.0 L162.5,133.7 L163.5,133.4 L164.5,133.1 L165.5,132.8 L166.5,132.5 L167.5,132.3 L168.5,132.0 L169.5,131.7 L170.5,131.5 L171.5,131.2 L172.5,131.0 L173.5,130.8 L174.5,130.5 L175.5,130.3 L176.5,130.1 L177.5,129.8 L178.5,129.6 L179.5,129.4 L180.5,129.2 L181.5,129.0 L182.5,128.8 L183.5,128.6 L184.5,128.4 L185.5,128.2 L186.5,128.0 L187.5,127.8 L188.5,127.6 L189.5,127.5 L190.5,127.3 L191.5,127.1 L192.5,126.9 L193.5,126.8 L194.5,126.6 L195.5,126.5 L196.5,126.3 L197.5,126.1 L198.5,126.0 L199.5,125.8 L200.5,125.7 L201.5,125.5 L202.5,125.4 L203.5,125.2 L204.5,125.1 L205.5,124.9 L206.5,124.8 L207.5,124.7 L208.5,124.5 L209.5,124.4 L210.5,124.2 L211.5,124.1 L212.5,124.0 L213.5,123.8 L214.5,123.7 L215.5,123.6 L216.5,123.5 L217.5,123.3 L218.5,123.2 L219.5,123.1 L220.5,123.0 L221.5,122.8 L222.5,122.7 L223.5,122.6 L224.5,122.5 L225.5,122.3 L226.5,122.2 L227.5,122.1 L228.5,122.0 L229.5,121.9 L230.5,121.8 L231.5,121.6 L232.5,121.5 L233.5,121.4 L234.5,121.3 L235.5,121.2 L236.5,121.1 L237.5,121.0 L238.5,120.9 L239.5,120.8 L240.5,120.6 L241.5,120.5 L242.5,120.4 L243.5,120.3 L244.5,120.2 L245.5,120.1 L246.5,120.0 L247.5,119.9 L248.5,119.8 L249.5,119.7 L250.5,119.6 L251.5,119.5 L252.5,119.4 L253.5,119.3 L254.5,119.2 L255.5,119.1 L256.5,119.0 L257.5,118.9 L258.5,118.8 L259.5,118.7 L260.5,118.6 L261.5,118.5 L262.5,118.4 L263.5,118.3 L264.5,118.2 L265.5,118.1 L266.5,118.0 L267.5,117.9 L268.5,117.8 L269.5,117.7 L270.5,117.6 L271.5,117.5 L272.5,117.4 L273.5,117.3 L274.5,117.2 L275.5,117.1 L276.5,117.0 L277.5,116.9 L278.5,116.8 L279.5,116.7 L280.5,116.6 L281.5,116.5 L282.5,116.4 L283.5,116.3 L284.5,116.2 L285.5,116.1 L286.5,116.0 L287.5,116.0 L288.5,115.9 L289.5,115.8 L290.5,115.7 L291.5,115.6 L292.5,115.5 L293.5,115.4 L294.5,115.3 L295.5,115.2 L296.5,115.1 L297.5,115.0 L298.5,114.9 L299.5,114.9 L300.5,114.8 L301.5,114.7 L302.5,114.6 L303.5,114.5 L304.5,114.4 L305.5,114.3 L306.5,114.2 L307.5,114.1 L308.5,114.1 L309.5,114.0 L310.5,113.9 L311.5,113.8 L312.5,113.7 L313.5,113.6 L314.5,113.5 L315.5,113.4 L316.5,113.3 L317.5,113.3 L318.5,113.2 L319.5,113.1 L320.5,113.0 L321.5,112.9 L322.5,112.8 L323.5,112.7 L324.5,112.6 L325.0,112.6" stroke="#0000ff" stroke-width="3.6" stroke-dasharray="4 3.55"/>
</g>
<g clip-path="url(#cr)" fill="none">
<path d="M385.6,126.9 L386.6,126.4 L387.6,125.9 L388.6,125.4 L389.6,124.8 L390.6,124.2 L391.6,123.7 L392.6,123.1 L393.6,122.5 L394.6,121.9 L395.6,121.3 L396.6,120.7 L397.6,120.1 L398.6,119.5 L399.6,118.9 L400.6,118.3 L401.6,117.7 L402.6,117.1 L403.6,116.5 L404.6,115.9 L405.6,115.4 L406.6,114.8 L407.6,114.2 L408.6,113.6 L409.6,113.1 L410.6,112.5 L411.6,112.0 L412.6,111.4 L413.6,110.9 L414.6,110.3 L415.6,109.8 L416.6,109.3 L417.6,108.8 L418.6,108.3 L419.6,107.7 L420.6,107.2 L421.6,106.7 L422.6,106.3 L423.6,105.8 L424.6,105.3 L425.6,104.8 L426.6,104.3 L427.6,103.9 L428.6,103.4 L429.6,103.0 L430.6,102.5 L431.6,102.1 L432.6,101.6 L433.6,101.2 L434.6,100.7 L435.6,100.3 L436.6,99.9 L437.6,99.5 L438.6,99.1 L439.6,98.7 L440.6,98.3 L441.6,97.9 L442.6,97.5 L443.6,97.1 L444.6,96.7 L445.6,96.3 L446.6,95.9 L447.6,95.5 L448.6,95.2 L449.6,94.8 L450.6,94.4 L451.6,94.1 L452.6,93.7 L453.6,93.4 L454.6,93.0 L455.6,92.7 L456.6,92.3 L457.6,92.0 L458.6,91.7 L459.6,91.3 L460.6,91.0 L461.6,90.7 L462.6,90.4 L463.6,90.0 L464.6,89.7 L465.6,89.4 L466.6,89.1 L467.6,88.8 L468.6,88.5 L469.6,88.2 L470.6,87.9 L471.6,87.6 L472.6,87.3 L473.6,87.0 L474.6,86.8 L475.6,86.5 L476.6,86.2 L477.6,85.9 L478.6,85.7 L479.6,85.4 L480.6,85.1 L481.6,84.8 L482.6,84.6 L483.6,84.3 L484.6,84.1 L485.6,83.8 L486.6,83.6 L487.6,83.3 L488.6,83.1 L489.6,82.8 L490.6,82.6 L491.6,82.3 L492.6,82.1 L493.6,81.8 L494.6,81.6 L495.6,81.4 L496.6,81.2 L497.6,80.9 L498.6,80.7 L499.6,80.5 L500.6,80.2 L501.6,80.0 L502.6,79.8 L503.6,79.6 L504.6,79.4 L505.6,79.2 L506.6,79.0 L507.6,78.7 L508.6,78.5 L509.6,78.3 L510.6,78.1 L511.6,77.9 L512.6,77.7 L513.6,77.5 L514.6,77.3 L515.6,77.1 L516.6,77.0 L517.6,76.8 L518.6,76.6 L519.6,76.4 L520.6,76.2 L521.6,76.0 L522.6,75.8 L523.6,75.6 L524.6,75.5 L525.6,75.3 L526.6,75.1 L527.6,74.9 L528.6,74.8 L529.6,74.6 L530.6,74.4 L531.6,74.3 L532.6,74.1 L533.6,73.9 L534.6,73.8 L535.6,73.6 L536.6,73.4 L537.6,73.3 L538.6,73.1 L539.6,72.9 L540.6,72.8 L541.6,72.6 L542.6,72.5 L543.6,72.3 L544.6,72.2 L545.6,72.0 L546.6,71.9 L547.6,71.7 L548.6,71.6 L549.6,71.4 L550.6,71.3 L551.6,71.1 L552.6,71.0 L553.6,70.9 L554.6,70.7 L555.6,70.6 L556.6,70.4 L557.6,70.3 L558.6,70.2 L559.6,70.0 L560.6,69.9 L561.6,69.8 L562.6,69.6 L563.6,69.5 L564.6,69.4 L565.6,69.3 L566.6,69.1 L567.6,69.0 L568.6,68.9 L569.6,68.8 L570.6,68.6 L571.6,68.5 L572.6,68.4 L573.6,68.3 L574.6,68.1 L575.6,68.0 L576.6,67.9 L577.6,67.8 L578.6,67.7 L579.6,67.6 L580.6,67.5 L581.6,67.3 L582.6,67.2 L583.6,67.1 L584.6,67.0 L585.6,66.9 L586.6,66.8 L587.6,66.7 L588.6,66.6 L589.6,66.5 L590.6,66.4 L591.6,66.3 L592.6,66.2 L593.6,66.1 L594.6,66.0 L595.6,65.9 L596.6,65.8 L597.6,65.7 L598.0,65.6" stroke="#ff0000" stroke-width="3.6" stroke-dasharray="1.6 2.1"/>
<path d="M385.6,111.2 L386.6,110.5 L387.6,109.9 L388.6,109.3 L389.6,108.7 L390.6,108.1 L391.6,107.5 L392.6,106.9 L393.6,106.3 L394.6,105.8 L395.6,105.2 L396.6,104.7 L397.6,104.1 L398.6,103.6 L399.6,103.1 L400.6,102.6 L401.6,102.1 L402.6,101.6 L403.6,101.1 L404.6,100.6 L405.6,100.1 L406.6,99.7 L407.6,99.2 L408.6,98.7 L409.6,98.3 L410.6,97.9 L411.6,97.4 L412.6,97.0 L413.6,96.6 L414.6,96.2 L415.6,95.8 L416.6,95.3 L417.6,94.9 L418.6,94.6 L419.6,94.2 L420.6,93.8 L421.6,93.4 L422.6,93.0 L423.6,92.7 L424.6,92.3 L425.6,91.9 L426.6,91.6 L427.6,91.2 L428.6,90.9 L429.6,90.6 L430.6,90.2 L431.6,89.9 L432.6,89.6 L433.6,89.2 L434.6,88.9 L435.6,88.6 L436.6,88.3 L437.6,88.0 L438.6,87.7 L439.6,87.4 L440.6,87.1 L441.6,86.8 L442.6,86.5 L443.6,86.2 L444.6,85.9 L445.6,85.6 L446.6,85.3 L447.6,85.1 L448.6,84.8 L449.6,84.5 L450.6,84.2 L451.6,84.0 L452.6,83.7 L453.6,83.5 L454.6,83.2 L455.6,82.9 L456.6,82.7 L457.6,82.4 L458.6,82.2 L459.6,82.0 L460.6,81.7 L461.6,81.5 L462.6,81.2 L463.6,81.0 L464.6,80.8 L465.6,80.5 L466.6,80.3 L467.6,80.1 L468.6,79.9 L469.6,79.6 L470.6,79.4 L471.6,79.2 L472.6,79.0 L473.6,78.8 L474.6,78.6 L475.6,78.3 L476.6,78.1 L477.6,77.9 L478.6,77.7 L479.6,77.5 L480.6,77.3 L481.6,77.1 L482.6,76.9 L483.6,76.7 L484.6,76.5 L485.6,76.3 L486.6,76.1 L487.6,76.0 L488.6,75.8 L489.6,75.6 L490.6,75.4 L491.6,75.2 L492.6,75.0 L493.6,74.8 L494.6,74.7 L495.6,74.5 L496.6,74.3 L497.6,74.1 L498.6,74.0 L499.6,73.8 L500.6,73.6 L501.6,73.4 L502.6,73.3 L503.6,73.1 L504.6,72.9 L505.6,72.8 L506.6,72.6 L507.6,72.5 L508.6,72.3 L509.6,72.1 L510.6,72.0 L511.6,71.8 L512.6,71.7 L513.6,71.5 L514.6,71.4 L515.6,71.2 L516.6,71.0 L517.6,70.9 L518.6,70.7 L519.6,70.6 L520.6,70.5 L521.6,70.3 L522.6,70.2 L523.6,70.0 L524.6,69.9 L525.6,69.7 L526.6,69.6 L527.6,69.4 L528.6,69.3 L529.6,69.2 L530.6,69.0 L531.6,68.9 L532.6,68.8 L533.6,68.6 L534.6,68.5 L535.6,68.4 L536.6,68.2 L537.6,68.1 L538.6,68.0 L539.6,67.8 L540.6,67.7 L541.6,67.6 L542.6,67.4 L543.6,67.3 L544.6,67.2 L545.6,67.1 L546.6,66.9 L547.6,66.8 L548.6,66.7 L549.6,66.6 L550.6,66.5 L551.6,66.3 L552.6,66.2 L553.6,66.1 L554.6,66.0 L555.6,65.9 L556.6,65.7 L557.6,65.6 L558.6,65.5 L559.6,65.4 L560.6,65.3 L561.6,65.2 L562.6,65.1 L563.6,65.0 L564.6,64.8 L565.6,64.7 L566.6,64.6 L567.6,64.5 L568.6,64.4 L569.6,64.3 L570.6,64.2 L571.6,64.1 L572.6,64.0 L573.6,63.9 L574.6,63.8 L575.6,63.7 L576.6,63.6 L577.6,63.5 L578.6,63.4 L579.6,63.3 L580.6,63.2 L581.6,63.1 L582.6,63.0 L583.6,62.9 L584.6,62.8 L585.6,62.7 L586.6,62.6 L587.6,62.5 L588.6,62.4 L589.6,62.3 L590.6,62.2 L591.6,62.1 L592.6,62.0 L593.6,61.9 L594.6,61.8 L595.6,61.7 L596.6,61.6 L597.6,61.5 L598.0,61.5" stroke="#ff0000" stroke-width="3.6"/>
<path d="M386.5,94.0 L387.5,93.5 L388.5,93.0 L389.5,92.5 L390.5,92.0 L391.5,91.6 L392.5,91.1 L393.5,90.6 L394.5,90.2 L395.5,89.8 L396.5,89.4 L397.5,88.9 L398.5,88.5 L399.5,88.1 L400.5,87.7 L401.5,87.3 L402.5,87.0 L403.5,86.6 L404.5,86.2 L405.5,85.9 L406.5,85.5 L407.5,85.2 L408.5,84.8 L409.5,84.5 L410.5,84.2 L411.5,83.8 L412.5,83.5 L413.5,83.2 L414.5,82.9 L415.5,82.6 L416.5,82.3 L417.5,82.0 L418.5,81.7 L419.5,81.4 L420.5,81.1 L421.5,80.9 L422.5,80.6 L423.5,80.3 L424.5,80.0 L425.5,79.8 L426.5,79.5 L427.5,79.3 L428.5,79.0 L429.5,78.8 L430.5,78.5 L431.5,78.3 L432.5,78.0 L433.5,77.8 L434.5,77.6 L435.5,77.3 L436.5,77.1 L437.5,76.9 L438.5,76.7 L439.5,76.4 L440.5,76.2 L441.5,76.0 L442.5,75.8 L443.5,75.6 L444.5,75.4 L445.5,75.2 L446.5,75.0 L447.5,74.8 L448.5,74.6 L449.5,74.4 L450.5,74.2 L451.5,74.0 L452.5,73.8 L453.5,73.6 L454.5,73.4 L455.5,73.2 L456.5,73.1 L457.5,72.9 L458.5,72.7 L459.5,72.5 L460.5,72.4 L461.5,72.2 L462.5,72.0 L463.5,71.8 L464.5,71.7 L465.5,71.5 L466.5,71.3 L467.5,71.2 L468.5,71.0 L469.5,70.9 L470.5,70.7 L471.5,70.6 L472.5,70.4 L473.5,70.2 L474.5,70.1 L475.5,69.9 L476.5,69.8 L477.5,69.6 L478.5,69.5 L479.5,69.4 L480.5,69.2 L481.5,69.1 L482.5,68.9 L483.5,68.8 L484.5,68.6 L485.5,68.5 L486.5,68.4 L487.5,68.2 L488.5,68.1 L489.5,68.0 L490.5,67.8 L491.5,67.7 L492.5,67.6 L493.5,67.5 L494.5,67.3 L495.5,67.2 L496.5,67.1 L497.5,66.9 L498.5,66.8 L499.5,66.7 L500.5,66.6 L501.5,66.5 L502.5,66.3 L503.5,66.2 L504.5,66.1 L505.5,66.0 L506.5,65.9 L507.5,65.8 L508.5,65.6 L509.5,65.5 L510.5,65.4 L511.5,65.3 L512.5,65.2 L513.5,65.1 L514.5,65.0 L515.5,64.9 L516.5,64.8 L517.5,64.7 L518.5,64.5 L519.5,64.4 L520.5,64.3 L521.5,64.2 L522.5,64.1 L523.5,64.0 L524.5,63.9 L525.5,63.8 L526.5,63.7 L527.5,63.6 L528.5,63.5 L529.5,63.4 L530.5,63.3 L531.5,63.2 L532.5,63.1 L533.5,63.0 L534.5,63.0 L535.5,62.9 L536.5,62.8 L537.5,62.7 L538.5,62.6 L539.5,62.5 L540.5,62.4 L541.5,62.3 L542.5,62.2 L543.5,62.1 L544.5,62.0 L545.5,62.0 L546.5,61.9 L547.5,61.8 L548.5,61.7 L549.5,61.6 L550.5,61.5 L551.5,61.4 L552.5,61.4 L553.5,61.3 L554.5,61.2 L555.5,61.1 L556.5,61.0 L557.5,60.9 L558.5,60.9 L559.5,60.8 L560.5,60.7 L561.5,60.6 L562.5,60.5 L563.5,60.5 L564.5,60.4 L565.5,60.3 L566.5,60.2 L567.5,60.2 L568.5,60.1 L569.5,60.0 L570.5,59.9 L571.5,59.9 L572.5,59.8 L573.5,59.7 L574.5,59.6 L575.5,59.6 L576.5,59.5 L577.5,59.4 L578.5,59.3 L579.5,59.3 L580.5,59.2 L581.5,59.1 L582.5,59.1 L583.5,59.0 L584.5,58.9 L585.5,58.9 L586.5,58.8 L587.5,58.7 L588.5,58.7 L589.5,58.6 L590.5,58.5 L591.5,58.5 L592.5,58.4 L593.5,58.3 L594.5,58.3 L595.5,58.2 L596.5,58.1 L597.5,58.1 L598.0,58.0" stroke="#ff0000" stroke-width="3.6" stroke-dasharray="4 3.55"/>
<path d="M385.0,222.6 L386.0,221.8 L387.0,220.9 L388.0,219.9 L389.0,218.9 L390.0,217.8 L391.0,216.7 L392.0,215.6 L393.0,214.5 L394.0,213.3 L395.0,212.2 L396.0,211.1 L397.0,209.9 L398.0,208.8 L399.0,207.7 L400.0,206.5 L401.0,205.4 L402.0,204.4 L403.0,203.3 L404.0,202.2 L405.0,201.2 L406.0,200.2 L407.0,199.2 L408.0,198.2 L409.0,197.2 L410.0,196.3 L411.0,195.4 L412.0,194.5 L413.0,193.6 L414.0,192.7 L415.0,191.9 L416.0,191.1 L417.0,190.3 L418.0,189.5 L419.0,188.7 L420.0,187.9 L421.0,187.1 L422.0,186.4 L423.0,185.6 L424.0,184.9 L425.0,184.2 L426.0,183.4 L427.0,182.7 L428.0,182.0 L429.0,181.3 L430.0,180.6 L431.0,179.9 L432.0,179.2 L433.0,178.5 L434.0,177.8 L435.0,177.1 L436.0,176.5 L437.0,175.8 L438.0,175.1 L439.0,174.4 L440.0,173.7 L441.0,173.1 L442.0,172.4 L443.0,171.7 L444.0,171.1 L445.0,170.4 L446.0,169.8 L447.0,169.1 L448.0,168.5 L449.0,167.8 L450.0,167.2 L451.0,166.6 L452.0,165.9 L453.0,165.3 L454.0,164.7 L455.0,164.1 L456.0,163.5 L457.0,162.8 L458.0,162.2 L459.0,161.7 L460.0,161.1 L461.0,160.5 L462.0,159.9 L463.0,159.3 L464.0,158.8 L465.0,158.2 L466.0,157.6 L467.0,157.1 L468.0,156.5 L469.0,156.0 L470.0,155.4 L471.0,154.9 L472.0,154.4 L473.0,153.9 L474.0,153.3 L475.0,152.8 L476.0,152.3 L477.0,151.8 L478.0,151.3 L479.0,150.8 L480.0,150.4 L481.0,149.9 L482.0,149.4 L483.0,148.9 L484.0,148.5 L485.0,148.0 L486.0,147.5 L487.0,147.1 L488.0,146.6 L489.0,146.2 L490.0,145.7 L491.0,145.3 L492.0,144.9 L493.0,144.4 L494.0,144.0 L495.0,143.6 L496.0,143.2 L497.0,142.8 L498.0,142.3 L499.0,141.9 L500.0,141.5 L501.0,141.1 L502.0,140.7 L503.0,140.3 L504.0,139.9 L505.0,139.5 L506.0,139.1 L507.0,138.7 L508.0,138.3 L509.0,137.9 L510.0,137.5 L511.0,137.1 L512.0,136.8 L513.0,136.4 L514.0,136.0 L515.0,135.6 L516.0,135.2 L517.0,134.8 L518.0,134.5 L519.0,134.1 L520.0,133.7 L521.0,133.3 L522.0,132.9 L523.0,132.6 L524.0,132.2 L525.0,131.8 L526.0,131.4 L527.0,131.1 L528.0,130.7 L529.0,130.3 L530.0,129.9 L531.0,129.6 L532.0,129.2 L533.0,128.8 L534.0,128.4 L535.0,128.1 L536.0,127.7 L537.0,127.3 L538.0,127.0 L539.0,126.6 L540.0,126.2 L541.0,125.9 L542.0,125.5 L543.0,125.1 L544.0,124.8 L545.0,124.4 L546.0,124.0 L547.0,123.7 L548.0,123.3 L549.0,123.0 L550.0,122.6 L551.0,122.3 L552.0,121.9 L553.0,121.6 L554.0,121.2 L555.0,120.8 L556.0,120.5 L557.0,120.2 L558.0,119.8 L559.0,119.5 L560.0,119.1 L561.0,118.8 L562.0,118.4 L563.0,118.1 L564.0,117.8 L565.0,117.4 L566.0,117.1 L567.0,116.8 L568.0,116.4 L569.0,116.1 L570.0,115.8 L571.0,115.4 L572.0,115.1 L573.0,114.8 L574.0,114.5 L575.0,114.1 L576.0,113.8 L577.0,113.5 L578.0,113.2 L579.0,112.9 L580.0,112.6 L581.0,112.3 L582.0,112.0 L583.0,111.6 L584.0,111.3 L585.0,111.0 L586.0,110.7 L587.0,110.4 L588.0,110.1 L589.0,109.8 L590.0,109.5 L591.0,109.3 L592.0,109.0 L593.0,108.7 L594.0,108.4 L595.0,108.1 L596.0,107.8 L597.0,107.5 L597.5,107.4" stroke="#000000" stroke-width="3.6" stroke-dasharray="1.6 2.1"/>
<path d="M385.6,198.1 L386.6,197.0 L387.6,195.9 L388.6,194.8 L389.6,193.7 L390.6,192.7 L391.6,191.6 L392.6,190.5 L393.6,189.5 L394.6,188.5 L395.6,187.4 L396.6,186.4 L397.6,185.4 L398.6,184.4 L399.6,183.5 L400.6,182.5 L401.6,181.5 L402.6,180.6 L403.6,179.7 L404.6,178.8 L405.6,177.8 L406.6,177.0 L407.6,176.1 L408.6,175.2 L409.6,174.3 L410.6,173.5 L411.6,172.6 L412.6,171.8 L413.6,171.0 L414.6,170.2 L415.6,169.4 L416.6,168.6 L417.6,167.8 L418.6,167.0 L419.6,166.2 L420.6,165.5 L421.6,164.7 L422.6,164.0 L423.6,163.3 L424.6,162.5 L425.6,161.8 L426.6,161.1 L427.6,160.4 L428.6,159.7 L429.6,159.0 L430.6,158.3 L431.6,157.7 L432.6,157.0 L433.6,156.4 L434.6,155.7 L435.6,155.1 L436.6,154.4 L437.6,153.8 L438.6,153.2 L439.6,152.5 L440.6,151.9 L441.6,151.3 L442.6,150.7 L443.6,150.1 L444.6,149.6 L445.6,149.0 L446.6,148.4 L447.6,147.8 L448.6,147.3 L449.6,146.7 L450.6,146.1 L451.6,145.6 L452.6,145.0 L453.6,144.5 L454.6,144.0 L455.6,143.4 L456.6,142.9 L457.6,142.4 L458.6,141.9 L459.6,141.4 L460.6,140.9 L461.6,140.4 L462.6,139.9 L463.6,139.4 L464.6,138.9 L465.6,138.4 L466.6,137.9 L467.6,137.4 L468.6,136.9 L469.6,136.5 L470.6,136.0 L471.6,135.6 L472.6,135.1 L473.6,134.6 L474.6,134.2 L475.6,133.7 L476.6,133.3 L477.6,132.9 L478.6,132.4 L479.6,132.0 L480.6,131.5 L481.6,131.1 L482.6,130.7 L483.6,130.3 L484.6,129.9 L485.6,129.4 L486.6,129.0 L487.6,128.6 L488.6,128.2 L489.6,127.8 L490.6,127.4 L491.6,127.0 L492.6,126.6 L493.6,126.2 L494.6,125.8 L495.6,125.5 L496.6,125.1 L497.6,124.7 L498.6,124.3 L499.6,123.9 L500.6,123.6 L501.6,123.2 L502.6,122.8 L503.6,122.5 L504.6,122.1 L505.6,121.7 L506.6,121.4 L507.6,121.0 L508.6,120.7 L509.6,120.3 L510.6,120.0 L511.6,119.6 L512.6,119.3 L513.6,118.9 L514.6,118.6 L515.6,118.3 L516.6,117.9 L517.6,117.6 L518.6,117.3 L519.6,116.9 L520.6,116.6 L521.6,116.3 L522.6,116.0 L523.6,115.7 L524.6,115.3 L525.6,115.0 L526.6,114.7 L527.6,114.4 L528.6,114.1 L529.6,113.8 L530.6,113.5 L531.6,113.2 L532.6,112.9 L533.6,112.6 L534.6,112.3 L535.6,112.0 L536.6,111.7 L537.6,111.4 L538.6,111.1 L539.6,110.8 L540.6,110.5 L541.6,110.2 L542.6,109.9 L543.6,109.6 L544.6,109.3 L545.6,109.1 L546.6,108.8 L547.6,108.5 L548.6,108.2 L549.6,108.0 L550.6,107.7 L551.6,107.4 L552.6,107.1 L553.6,106.9 L554.6,106.6 L555.6,106.3 L556.6,106.1 L557.6,105.8 L558.6,105.5 L559.6,105.3 L560.6,105.0 L561.6,104.8 L562.6,104.5 L563.6,104.3 L564.6,104.0 L565.6,103.8 L566.6,103.5 L567.6,103.3 L568.6,103.0 L569.6,102.8 L570.6,102.5 L571.6,102.3 L572.6,102.0 L573.6,101.8 L574.6,101.5 L575.6,101.3 L576.6,101.1 L577.6,100.8 L578.6,100.6 L579.6,100.3 L580.6,100.1 L581.6,99.9 L582.6,99.7 L583.6,99.4 L584.6,99.2 L585.6,99.0 L586.6,98.7 L587.6,98.5 L588.6,98.3 L589.6,98.1 L590.6,97.8 L591.6,97.6 L592.6,97.4 L593.6,97.2 L594.6,97.0 L595.6,96.7 L596.6,96.5 L597.6,96.3 L598.0,96.2" stroke="#000000" stroke-width="3.6"/>
<path d="M385.6,164.4 L386.6,163.7 L387.6,162.9 L388.6,162.2 L389.6,161.4 L390.6,160.7 L391.6,159.9 L392.6,159.1 L393.6,158.3 L394.6,157.6 L395.6,156.8 L396.6,156.0 L397.6,155.3 L398.6,154.5 L399.6,153.8 L400.6,153.0 L401.6,152.3 L402.6,151.5 L403.6,150.8 L404.6,150.1 L405.6,149.4 L406.6,148.6 L407.6,147.9 L408.6,147.2 L409.6,146.5 L410.6,145.9 L411.6,145.2 L412.6,144.5 L413.6,143.8 L414.6,143.2 L415.6,142.5 L416.6,141.9 L417.6,141.3 L418.6,140.6 L419.6,140.0 L420.6,139.4 L421.6,138.8 L422.6,138.2 L423.6,137.6 L424.6,137.0 L425.6,136.4 L426.6,135.8 L427.6,135.3 L428.6,134.7 L429.6,134.2 L430.6,133.6 L431.6,133.1 L432.6,132.5 L433.6,132.0 L434.6,131.4 L435.6,130.9 L436.6,130.4 L437.6,129.9 L438.6,129.4 L439.6,128.9 L440.6,128.4 L441.6,127.9 L442.6,127.4 L443.6,126.9 L444.6,126.4 L445.6,126.0 L446.6,125.5 L447.6,125.0 L448.6,124.6 L449.6,124.1 L450.6,123.7 L451.6,123.2 L452.6,122.8 L453.6,122.4 L454.6,121.9 L455.6,121.5 L456.6,121.1 L457.6,120.7 L458.6,120.2 L459.6,119.8 L460.6,119.4 L461.6,119.0 L462.6,118.6 L463.6,118.2 L464.6,117.8 L465.6,117.4 L466.6,117.0 L467.6,116.7 L468.6,116.3 L469.6,115.9 L470.6,115.5 L471.6,115.2 L472.6,114.8 L473.6,114.4 L474.6,114.1 L475.6,113.7 L476.6,113.4 L477.6,113.0 L478.6,112.7 L479.6,112.3 L480.6,112.0 L481.6,111.7 L482.6,111.3 L483.6,111.0 L484.6,110.7 L485.6,110.3 L486.6,110.0 L487.6,109.7 L488.6,109.4 L489.6,109.0 L490.6,108.7 L491.6,108.4 L492.6,108.1 L493.6,107.8 L494.6,107.5 L495.6,107.2 L496.6,106.9 L497.6,106.6 L498.6,106.3 L499.6,106.0 L500.6,105.7 L501.6,105.4 L502.6,105.2 L503.6,104.9 L504.6,104.6 L505.6,104.3 L506.6,104.0 L507.6,103.8 L508.6,103.5 L509.6,103.2 L510.6,103.0 L511.6,102.7 L512.6,102.4 L513.6,102.2 L514.6,101.9 L515.6,101.6 L516.6,101.4 L517.6,101.1 L518.6,100.9 L519.6,100.6 L520.6,100.4 L521.6,100.1 L522.6,99.9 L523.6,99.6 L524.6,99.4 L525.6,99.2 L526.6,98.9 L527.6,98.7 L528.6,98.5 L529.6,98.2 L530.6,98.0 L531.6,97.8 L532.6,97.5 L533.6,97.3 L534.6,97.1 L535.6,96.9 L536.6,96.6 L537.6,96.4 L538.6,96.2 L539.6,96.0 L540.6,95.8 L541.6,95.6 L542.6,95.3 L543.6,95.1 L544.6,94.9 L545.6,94.7 L546.6,94.5 L547.6,94.3 L548.6,94.1 L549.6,93.9 L550.6,93.7 L551.6,93.5 L552.6,93.3 L553.6,93.1 L554.6,92.9 L555.6,92.7 L556.6,92.5 L557.6,92.3 L558.6,92.1 L559.6,91.9 L560.6,91.7 L561.6,91.6 L562.6,91.4 L563.6,91.2 L564.6,91.0 L565.6,90.8 L566.6,90.6 L567.6,90.5 L568.6,90.3 L569.6,90.1 L570.6,89.9 L571.6,89.7 L572.6,89.6 L573.6,89.4 L574.6,89.2 L575.6,89.1 L576.6,88.9 L577.6,88.7 L578.6,88.5 L579.6,88.4 L580.6,88.2 L581.6,88.0 L582.6,87.9 L583.6,87.7 L584.6,87.6 L585.6,87.4 L586.6,87.2 L587.6,87.1 L588.6,86.9 L589.6,86.8 L590.6,86.6 L591.6,86.4 L592.6,86.3 L593.6,86.1 L594.6,86.0 L595.6,85.8 L596.6,85.7 L597.6,85.5 L598.0,85.5" stroke="#000000" stroke-width="3.6" stroke-dasharray="4 3.55"/>
<path d="M396.0,273.5 L397.0,272.1 L398.0,270.8 L399.0,269.6 L400.0,268.3 L401.0,267.1 L402.0,265.9 L403.0,264.8 L404.0,263.6 L405.0,262.5 L406.0,261.4 L407.0,260.3 L408.0,259.3 L409.0,258.3 L410.0,257.3 L411.0,256.3 L412.0,255.3 L413.0,254.3 L414.0,253.4 L415.0,252.5 L416.0,251.5 L417.0,250.6 L418.0,249.7 L419.0,248.9 L420.0,248.0 L421.0,247.1 L422.0,246.3 L423.0,245.5 L424.0,244.6 L425.0,243.8 L426.0,243.0 L427.0,242.2 L428.0,241.4 L429.0,240.7 L430.0,239.9 L431.0,239.1 L432.0,238.4 L433.0,237.6 L434.0,236.9 L435.0,236.2 L436.0,235.4 L437.0,234.7 L438.0,234.0 L439.0,233.3 L440.0,232.6 L441.0,231.9 L442.0,231.2 L443.0,230.6 L444.0,229.9 L445.0,229.2 L446.0,228.6 L447.0,227.9 L448.0,227.2 L449.0,226.6 L450.0,226.0 L451.0,225.3 L452.0,224.7 L453.0,224.1 L454.0,223.4 L455.0,222.8 L456.0,222.2 L457.0,221.6 L458.0,221.0 L459.0,220.4 L460.0,219.8 L461.0,219.2 L462.0,218.6 L463.0,218.0 L464.0,217.5 L465.0,216.9 L466.0,216.3 L467.0,215.7 L468.0,215.2 L469.0,214.6 L470.0,214.1 L471.0,213.5 L472.0,213.0 L473.0,212.4 L474.0,211.9 L475.0,211.3 L476.0,210.8 L477.0,210.2 L478.0,209.7 L479.0,209.2 L480.0,208.7 L481.0,208.1 L482.0,207.6 L483.0,207.1 L484.0,206.6 L485.0,206.1 L486.0,205.6 L487.0,205.1 L488.0,204.5 L489.0,204.0 L490.0,203.5 L491.0,203.1 L492.0,202.6 L493.0,202.1 L494.0,201.6 L495.0,201.1 L496.0,200.6 L497.0,200.1 L498.0,199.6 L499.0,199.2 L500.0,198.7 L501.0,198.2 L502.0,197.7 L503.0,197.3 L504.0,196.8 L505.0,196.3 L506.0,195.9 L507.0,195.4 L508.0,195.0 L509.0,194.5 L510.0,194.1 L511.0,193.6 L512.0,193.2 L513.0,192.7 L514.0,192.3 L515.0,191.8 L516.0,191.4 L517.0,190.9 L518.0,190.5 L519.0,190.1 L520.0,189.6 L521.0,189.2 L522.0,188.8 L523.0,188.3 L524.0,187.9 L525.0,187.5 L526.0,187.0 L527.0,186.6 L528.0,186.2 L529.0,185.8 L530.0,185.4 L531.0,184.9 L532.0,184.5 L533.0,184.1 L534.0,183.7 L535.0,183.3 L536.0,182.9 L537.0,182.5 L538.0,182.1 L539.0,181.7 L540.0,181.3 L541.0,180.9 L542.0,180.5 L543.0,180.1 L544.0,179.7 L545.0,179.3 L546.0,178.9 L547.0,178.5 L548.0,178.1 L549.0,177.7 L550.0,177.3 L551.0,176.9 L552.0,176.5 L553.0,176.1 L554.0,175.8 L555.0,175.4 L556.0,175.0 L557.0,174.6 L558.0,174.2 L559.0,173.9 L560.0,173.5 L561.0,173.1 L562.0,172.7 L563.0,172.4 L564.0,172.0 L565.0,171.6 L566.0,171.3 L567.0,170.9 L568.0,170.5 L569.0,170.2 L570.0,169.8 L571.0,169.4 L572.0,169.1 L573.0,168.7 L574.0,168.3 L575.0,168.0 L576.0,167.6 L577.0,167.3 L578.0,166.9 L579.0,166.6 L580.0,166.2 L581.0,165.8 L582.0,165.5 L583.0,165.1 L584.0,164.8 L585.0,164.4 L586.0,164.1 L587.0,163.7 L588.0,163.4 L589.0,163.1 L590.0,162.7 L591.0,162.4 L592.0,162.0 L593.0,161.7 L594.0,161.3 L595.0,161.0 L596.0,160.7 L597.0,160.3 L598.0,160.0" stroke="#0000ff" stroke-width="3.6" stroke-dasharray="1.6 2.1"/>
<path d="M385.6,260.6 L386.6,259.4 L387.6,258.2 L388.6,257.1 L389.6,255.9 L390.6,254.8 L391.6,253.6 L392.6,252.5 L393.6,251.4 L394.6,250.3 L395.6,249.3 L396.6,248.2 L397.6,247.2 L398.6,246.1 L399.6,245.1 L400.6,244.1 L401.6,243.1 L402.6,242.1 L403.6,241.1 L404.6,240.1 L405.6,239.2 L406.6,238.2 L407.6,237.3 L408.6,236.4 L409.6,235.4 L410.6,234.5 L411.6,233.6 L412.6,232.7 L413.6,231.8 L414.6,230.9 L415.6,230.1 L416.6,229.2 L417.6,228.4 L418.6,227.5 L419.6,226.7 L420.6,225.8 L421.6,225.0 L422.6,224.2 L423.6,223.4 L424.6,222.6 L425.6,221.8 L426.6,221.0 L427.6,220.2 L428.6,219.4 L429.6,218.7 L430.6,217.9 L431.6,217.1 L432.6,216.4 L433.6,215.6 L434.6,214.9 L435.6,214.1 L436.6,213.4 L437.6,212.7 L438.6,212.0 L439.6,211.2 L440.6,210.5 L441.6,209.8 L442.6,209.1 L443.6,208.4 L444.6,207.8 L445.6,207.1 L446.6,206.4 L447.6,205.7 L448.6,205.1 L449.6,204.4 L450.6,203.8 L451.6,203.1 L452.6,202.5 L453.6,201.9 L454.6,201.2 L455.6,200.6 L456.6,200.0 L457.6,199.4 L458.6,198.8 L459.6,198.2 L460.6,197.7 L461.6,197.1 L462.6,196.5 L463.6,196.0 L464.6,195.4 L465.6,194.9 L466.6,194.3 L467.6,193.8 L468.6,193.3 L469.6,192.7 L470.6,192.2 L471.6,191.7 L472.6,191.2 L473.6,190.7 L474.6,190.2 L475.6,189.8 L476.6,189.3 L477.6,188.8 L478.6,188.3 L479.6,187.9 L480.6,187.4 L481.6,187.0 L482.6,186.5 L483.6,186.0 L484.6,185.6 L485.6,185.2 L486.6,184.7 L487.6,184.3 L488.6,183.8 L489.6,183.4 L490.6,183.0 L491.6,182.6 L492.6,182.1 L493.6,181.7 L494.6,181.3 L495.6,180.9 L496.6,180.4 L497.6,180.0 L498.6,179.6 L499.6,179.2 L500.6,178.8 L501.6,178.4 L502.6,178.0 L503.6,177.6 L504.6,177.1 L505.6,176.7 L506.6,176.3 L507.6,175.9 L508.6,175.5 L509.6,175.1 L510.6,174.7 L511.6,174.3 L512.6,173.9 L513.6,173.5 L514.6,173.1 L515.6,172.7 L516.6,172.3 L517.6,171.9 L518.6,171.4 L519.6,171.0 L520.6,170.6 L521.6,170.2 L522.6,169.8 L523.6,169.4 L524.6,169.0 L525.6,168.6 L526.6,168.2 L527.6,167.8 L528.6,167.4 L529.6,167.0 L530.6,166.6 L531.6,166.2 L532.6,165.7 L533.6,165.3 L534.6,164.9 L535.6,164.5 L536.6,164.1 L537.6,163.7 L538.6,163.3 L539.6,162.9 L540.6,162.5 L541.6,162.0 L542.6,161.6 L543.6,161.2 L544.6,160.8 L545.6,160.4 L546.6,160.0 L547.6,159.6 L548.6,159.2 L549.6,158.8 L550.6,158.4 L551.6,158.0 L552.6,157.7 L553.6,157.3 L554.6,156.9 L555.6,156.5 L556.6,156.1 L557.6,155.8 L558.6,155.4 L559.6,155.0 L560.6,154.7 L561.6,154.3 L562.6,153.9 L563.6,153.6 L564.6,153.2 L565.6,152.9 L566.6,152.6 L567.6,152.2 L568.6,151.9 L569.6,151.6 L570.6,151.2 L571.6,150.9 L572.6,150.6 L573.6,150.3 L574.6,150.0 L575.6,149.7 L576.6,149.4 L577.6,149.1 L578.6,148.8 L579.6,148.5 L580.6,148.2 L581.6,147.9 L582.6,147.7 L583.6,147.4 L584.6,147.1 L585.6,146.9 L586.6,146.6 L587.6,146.4 L588.6,146.1 L589.6,145.9 L590.6,145.7 L591.6,145.4 L592.6,145.2 L593.6,145.0 L594.6,144.8 L595.6,144.6 L596.6,144.4 L597.6,144.2 L598.0,144.1" stroke="#0000ff" stroke-width="3.6"/>
<path d="M385.6,225.3 L386.6,224.3 L387.6,223.4 L388.6,222.4 L389.6,221.4 L390.6,220.5 L391.6,219.5 L392.6,218.6 L393.6,217.6 L394.6,216.7 L395.6,215.7 L396.6,214.8 L397.6,213.9 L398.6,213.0 L399.6,212.1 L400.6,211.2 L401.6,210.3 L402.6,209.5 L403.6,208.6 L404.6,207.8 L405.6,206.9 L406.6,206.1 L407.6,205.3 L408.6,204.5 L409.6,203.7 L410.6,202.9 L411.6,202.1 L412.6,201.3 L413.6,200.5 L414.6,199.8 L415.6,199.0 L416.6,198.3 L417.6,197.6 L418.6,196.8 L419.6,196.1 L420.6,195.4 L421.6,194.7 L422.6,194.0 L423.6,193.3 L424.6,192.6 L425.6,192.0 L426.6,191.3 L427.6,190.6 L428.6,190.0 L429.6,189.3 L430.6,188.7 L431.6,188.1 L432.6,187.5 L433.6,186.8 L434.6,186.2 L435.6,185.6 L436.6,185.0 L437.6,184.4 L438.6,183.8 L439.6,183.2 L440.6,182.7 L441.6,182.1 L442.6,181.5 L443.6,181.0 L444.6,180.4 L445.6,179.9 L446.6,179.3 L447.6,178.8 L448.6,178.2 L449.6,177.7 L450.6,177.2 L451.6,176.7 L452.6,176.1 L453.6,175.6 L454.6,175.1 L455.6,174.6 L456.6,174.1 L457.6,173.6 L458.6,173.1 L459.6,172.7 L460.6,172.2 L461.6,171.7 L462.6,171.2 L463.6,170.8 L464.6,170.3 L465.6,169.8 L466.6,169.4 L467.6,168.9 L468.6,168.5 L469.6,168.0 L470.6,167.6 L471.6,167.1 L472.6,166.7 L473.6,166.3 L474.6,165.8 L475.6,165.4 L476.6,165.0 L477.6,164.6 L478.6,164.2 L479.6,163.7 L480.6,163.3 L481.6,162.9 L482.6,162.5 L483.6,162.1 L484.6,161.7 L485.6,161.3 L486.6,160.9 L487.6,160.5 L488.6,160.2 L489.6,159.8 L490.6,159.4 L491.6,159.0 L492.6,158.6 L493.6,158.3 L494.6,157.9 L495.6,157.5 L496.6,157.2 L497.6,156.8 L498.6,156.4 L499.6,156.1 L500.6,155.7 L501.6,155.4 L502.6,155.0 L503.6,154.7 L504.6,154.3 L505.6,154.0 L506.6,153.6 L507.6,153.3 L508.6,153.0 L509.6,152.6 L510.6,152.3 L511.6,152.0 L512.6,151.6 L513.6,151.3 L514.6,151.0 L515.6,150.7 L516.6,150.3 L517.6,150.0 L518.6,149.7 L519.6,149.4 L520.6,149.1 L521.6,148.8 L522.6,148.5 L523.6,148.2 L524.6,147.9 L525.6,147.6 L526.6,147.3 L527.6,147.0 L528.6,146.7 L529.6,146.4 L530.6,146.1 L531.6,145.8 L532.6,145.5 L533.6,145.2 L534.6,144.9 L535.6,144.6 L536.6,144.3 L537.6,144.1 L538.6,143.8 L539.6,143.5 L540.6,143.2 L541.6,142.9 L542.6,142.7 L543.6,142.4 L544.6,142.1 L545.6,141.9 L546.6,141.6 L547.6,141.3 L548.6,141.1 L549.6,140.8 L550.6,140.5 L551.6,140.3 L552.6,140.0 L553.6,139.8 L554.6,139.5 L555.6,139.2 L556.6,139.0 L557.6,138.7 L558.6,138.5 L559.6,138.2 L560.6,138.0 L561.6,137.7 L562.6,137.5 L563.6,137.3 L564.6,137.0 L565.6,136.8 L566.6,136.5 L567.6,136.3 L568.6,136.1 L569.6,135.8 L570.6,135.6 L571.6,135.3 L572.6,135.1 L573.6,134.9 L574.6,134.6 L575.6,134.4 L576.6,134.2 L577.6,134.0 L578.6,133.7 L579.6,133.5 L580.6,133.3 L581.6,133.1 L582.6,132.8 L583.6,132.6 L584.6,132.4 L585.6,132.2 L586.6,132.0 L587.6,131.7 L588.6,131.5 L589.6,131.3 L590.6,131.1 L591.6,130.9 L592.6,130.7 L593.6,130.5 L594.6,130.3 L595.6,130.0 L596.6,129.8 L597.6,129.6 L598.0,129.6" stroke="#0000ff" stroke-width="3.6" stroke-dasharray="4 3.55"/>
</g>
<text x="63.3" y="45.3" font-size="24">K</text>
<text x="80.7" y="35.2" font-size="16">+</text>
<text x="368.4" y="45.3" font-size="24">K</text>
<rect x="385.7" y="27.7" width="5.0" height="1.9" fill="#000"/>
<path d="M77.96,43.95 V49.35 M77.96,58.55 V64.55" stroke="#ff0000" stroke-width="2.0" fill="none"/>
<path d="M107.17,50.80 V54.70 M107.17,63.90 V66.30" stroke="#ff0000" stroke-width="2.0" fill="none"/>
<path d="M136.38,58.10 V60.00 M136.38,69.20 V71.10" stroke="#ff0000" stroke-width="2.0" fill="none"/>
<path d="M165.59,58.90 V61.20 M165.59,70.40 V72.70" stroke="#ff0000" stroke-width="2.0" fill="none"/>
<path d="M194.80,59.55 V61.85 M194.80,71.05 V73.35" stroke="#ff0000" stroke-width="2.0" fill="none"/>
<path d="M224.01,55.80 V58.10 M224.01,67.30 V69.60" stroke="#ff0000" stroke-width="2.0" fill="none"/>
<path d="M253.22,55.80 V58.10 M253.22,67.30 V69.60" stroke="#ff0000" stroke-width="2.0" fill="none"/>
<path d="M282.43,53.95 V56.85 M282.43,66.05 V68.95" stroke="#ff0000" stroke-width="2.0" fill="none"/>
<path d="M318.94,56.30 V58.70 M318.94,67.90 V70.30" stroke="#ff0000" stroke-width="2.0" fill="none"/>
<circle cx="77.96" cy="53.95" r="3.85" fill="none" stroke="#000" stroke-width="1.9"/>
<circle cx="107.17" cy="59.30" r="3.85" fill="none" stroke="#000" stroke-width="1.9"/>
<circle cx="136.38" cy="64.60" r="3.85" fill="none" stroke="#000" stroke-width="1.9"/>
<circle cx="165.59" cy="65.80" r="3.85" fill="none" stroke="#000" stroke-width="1.9"/>
<circle cx="194.80" cy="66.45" r="3.85" fill="none" stroke="#000" stroke-width="1.9"/>
<circle cx="224.01" cy="62.70" r="3.85" fill="none" stroke="#000" stroke-width="1.9"/>
<circle cx="253.22" cy="62.70" r="3.85" fill="none" stroke="#000" stroke-width="1.9"/>
<circle cx="282.43" cy="61.45" r="3.85" fill="none" stroke="#000" stroke-width="1.9"/>
<circle cx="318.94" cy="63.30" r="3.85" fill="none" stroke="#000" stroke-width="1.9"/>
<path d="M77.96,88.30 V94.30 M77.96,100.30 V107.10" stroke="#000000" stroke-width="2.0" fill="none"/>
<path d="M107.17,90.80 V94.70 M107.17,100.70 V105.20" stroke="#000000" stroke-width="2.0" fill="none"/>
<path d="M136.38,95.80 V98.45 M136.38,104.45 V107.70" stroke="#000000" stroke-width="2.0" fill="none"/>
<path d="M165.59,87.10 V90.95 M165.59,96.95 V99.60" stroke="#000000" stroke-width="2.0" fill="none"/>
<path d="M194.80,82.10 V86.20 M194.80,92.20 V95.20" stroke="#000000" stroke-width="2.0" fill="none"/>
<path d="M224.01,82.10 V85.30 M224.01,91.30 V94.60" stroke="#000000" stroke-width="2.0" fill="none"/>
<path d="M253.22,74.95 V78.45 M253.22,84.45 V88.30" stroke="#000000" stroke-width="2.0" fill="none"/>
<path d="M282.43,73.10 V76.60 M282.43,82.60 V86.45" stroke="#000000" stroke-width="2.0" fill="none"/>
<path d="M318.94,63.30 V67.80 M318.94,73.80 V76.80" stroke="#000000" stroke-width="2.0" fill="none"/>
<circle cx="77.96" cy="97.30" r="4.3" fill="#000"/>
<circle cx="107.17" cy="97.70" r="4.3" fill="#000"/>
<circle cx="136.38" cy="101.45" r="4.3" fill="#000"/>
<circle cx="165.59" cy="93.95" r="4.3" fill="#000"/>
<circle cx="194.80" cy="89.20" r="4.3" fill="#000"/>
<circle cx="224.01" cy="88.30" r="4.3" fill="#000"/>
<circle cx="253.22" cy="81.45" r="4.3" fill="#000"/>
<circle cx="282.43" cy="79.60" r="4.3" fill="#000"/>
<circle cx="318.94" cy="70.80" r="4.3" fill="#000"/>
<path d="M77.96,138.30 V143.45 M77.96,154.45 V159.60" stroke="#0000ff" stroke-width="2.0" fill="none"/>
<path d="M107.17,138.95 V141.60 M107.17,152.60 V153.95" stroke="#0000ff" stroke-width="2.0" fill="none"/>
<path d="M136.38,140.20 V142.50 M136.38,153.50 V155.20" stroke="#0000ff" stroke-width="2.0" fill="none"/>
<path d="M165.59,137.45 V138.45 M165.59,149.45 V150.45" stroke="#0000ff" stroke-width="2.0" fill="none"/>
<path d="M194.80,129.60 V131.20 M194.80,142.20 V143.20" stroke="#0000ff" stroke-width="2.0" fill="none"/>
<path d="M224.01,126.20 V127.80 M224.01,138.80 V139.95" stroke="#0000ff" stroke-width="2.0" fill="none"/>
<path d="M253.22,118.80 V120.30 M253.22,131.30 V132.80" stroke="#0000ff" stroke-width="2.0" fill="none"/>
<path d="M282.43,116.70 V118.20 M282.43,129.20 V131.45" stroke="#0000ff" stroke-width="2.0" fill="none"/>
<path d="M318.94,94.60 V98.70 M318.94,109.70 V114.60" stroke="#0000ff" stroke-width="2.0" fill="none"/>
<polygon points="77.96,143.85 79.25,147.67 83.29,147.72 80.05,150.13 81.25,153.98 77.96,151.65 74.67,153.98 75.87,150.13 72.63,147.72 76.67,147.67" fill="#000"/>
<polygon points="107.17,142.00 108.46,145.82 112.50,145.87 109.26,148.28 110.46,152.13 107.17,149.80 103.88,152.13 105.08,148.28 101.84,145.87 105.88,145.82" fill="#000"/>
<polygon points="136.38,142.90 137.67,146.72 141.71,146.77 138.47,149.18 139.67,153.03 136.38,150.70 133.09,153.03 134.29,149.18 131.05,146.77 135.09,146.72" fill="#000"/>
<polygon points="165.59,138.85 166.88,142.67 170.92,142.72 167.68,145.13 168.88,148.98 165.59,146.65 162.30,148.98 163.50,145.13 160.26,142.72 164.30,142.67" fill="#000"/>
<polygon points="194.80,131.60 196.09,135.42 200.13,135.47 196.89,137.88 198.09,141.73 194.80,139.40 191.51,141.73 192.71,137.88 189.47,135.47 193.51,135.42" fill="#000"/>
<polygon points="224.01,128.20 225.30,132.02 229.34,132.07 226.10,134.48 227.30,138.33 224.01,136.00 220.72,138.33 221.92,134.48 218.68,132.07 222.72,132.02" fill="#000"/>
<polygon points="253.22,120.70 254.51,124.52 258.55,124.57 255.31,126.98 256.51,130.83 253.22,128.50 249.93,130.83 251.13,126.98 247.89,124.57 251.93,124.52" fill="#000"/>
<polygon points="282.43,118.60 283.72,122.42 287.76,122.47 284.52,124.88 285.72,128.73 282.43,126.40 279.14,128.73 280.34,124.88 277.10,122.47 281.14,122.42" fill="#000"/>
<polygon points="318.94,99.10 320.24,102.92 324.27,102.97 321.03,105.38 322.23,109.23 318.94,106.90 315.65,109.23 316.85,105.38 313.62,102.97 317.65,102.92" fill="#000"/>
<path d="M381.16,78.95 V90.20 M381.16,99.40 V110.80" stroke="#ff0000" stroke-width="2.0" fill="none"/>
<path d="M406.82,81.45 V85.60 M406.82,94.80 V99.60" stroke="#ff0000" stroke-width="2.0" fill="none"/>
<path d="M432.48,74.60 V77.70 M432.48,86.90 V88.95" stroke="#ff0000" stroke-width="2.0" fill="none"/>
<path d="M458.14,80.30 V83.70 M458.14,92.90 V96.30" stroke="#ff0000" stroke-width="2.0" fill="none"/>
<path d="M483.80,73.30 V75.60 M483.80,84.80 V87.70" stroke="#ff0000" stroke-width="2.0" fill="none"/>
<path d="M509.46,68.95 V71.60 M509.46,80.80 V83.95" stroke="#ff0000" stroke-width="2.0" fill="none"/>
<path d="M535.12,63.35 V66.85 M535.12,76.05 V79.55" stroke="#ff0000" stroke-width="2.0" fill="none"/>
<path d="M560.18,60.80 V64.10 M560.18,73.30 V77.10" stroke="#ff0000" stroke-width="2.0" fill="none"/>
<path d="M592.25,65.85 V68.35 M592.25,77.55 V79.95" stroke="#ff0000" stroke-width="2.0" fill="none"/>
<circle cx="381.16" cy="94.80" r="3.85" fill="none" stroke="#000" stroke-width="1.9"/>
<circle cx="406.82" cy="90.20" r="3.85" fill="none" stroke="#000" stroke-width="1.9"/>
<circle cx="432.48" cy="82.30" r="3.85" fill="none" stroke="#000" stroke-width="1.9"/>
<circle cx="458.14" cy="88.30" r="3.85" fill="none" stroke="#000" stroke-width="1.9"/>
<circle cx="483.80" cy="80.20" r="3.85" fill="none" stroke="#000" stroke-width="1.9"/>
<circle cx="509.46" cy="76.20" r="3.85" fill="none" stroke="#000" stroke-width="1.9"/>
<circle cx="535.12" cy="71.45" r="3.85" fill="none" stroke="#000" stroke-width="1.9"/>
<circle cx="560.18" cy="68.70" r="3.85" fill="none" stroke="#000" stroke-width="1.9"/>
<circle cx="592.25" cy="72.95" r="3.85" fill="none" stroke="#000" stroke-width="1.9"/>
<path d="M381.16,122.70 V132.80 M381.16,138.80 V149.60" stroke="#000000" stroke-width="2.0" fill="none"/>
<path d="M406.82,138.95 V143.45 M406.82,149.45 V153.30" stroke="#000000" stroke-width="2.0" fill="none"/>
<path d="M432.48,129.60 V132.80 M432.48,138.80 V143.30" stroke="#000000" stroke-width="2.0" fill="none"/>
<path d="M458.14,115.10 V119.20 M458.14,125.20 V129.50" stroke="#000000" stroke-width="2.0" fill="none"/>
<path d="M483.80,109.60 V112.80 M483.80,118.80 V123.30" stroke="#000000" stroke-width="2.0" fill="none"/>
<path d="M509.46,108.95 V112.45 M509.46,118.45 V121.95" stroke="#000000" stroke-width="2.0" fill="none"/>
<path d="M535.12,98.80 V102.80 M535.12,108.80 V112.80" stroke="#000000" stroke-width="2.0" fill="none"/>
<path d="M560.18,95.80 V100.30 M560.18,106.30 V110.80" stroke="#000000" stroke-width="2.0" fill="none"/>
<path d="M592.25,77.45 V83.45 M592.25,89.45 V95.80" stroke="#000000" stroke-width="2.0" fill="none"/>
<circle cx="381.16" cy="135.80" r="4.3" fill="#000"/>
<circle cx="406.82" cy="146.45" r="4.3" fill="#000"/>
<circle cx="432.48" cy="135.80" r="4.3" fill="#000"/>
<circle cx="458.14" cy="122.20" r="4.3" fill="#000"/>
<circle cx="483.80" cy="115.80" r="4.3" fill="#000"/>
<circle cx="509.46" cy="115.45" r="4.3" fill="#000"/>
<circle cx="535.12" cy="105.80" r="4.3" fill="#000"/>
<circle cx="560.18" cy="103.30" r="4.3" fill="#000"/>
<circle cx="592.25" cy="86.45" r="4.3" fill="#000"/>
<path d="M381.16,170.80 V182.20 M381.16,193.20 V203.30" stroke="#0000ff" stroke-width="2.0" fill="none"/>
<path d="M406.82,180.20 V183.80 M406.82,194.80 V198.95" stroke="#0000ff" stroke-width="2.0" fill="none"/>
<path d="M432.48,171.45 V172.85 M432.48,183.85 V185.85" stroke="#0000ff" stroke-width="2.0" fill="none"/>
<path d="M458.14,159.20 V161.20 M458.14,172.20 V174.20" stroke="#0000ff" stroke-width="2.0" fill="none"/>
<path d="M483.80,152.70 V153.70 M483.80,164.70 V166.20" stroke="#0000ff" stroke-width="2.0" fill="none"/>
<path d="M509.46,149.60 V151.40 M509.46,162.40 V164.20" stroke="#0000ff" stroke-width="2.0" fill="none"/>
<path d="M535.12,145.40 V147.90 M535.12,158.90 V160.80" stroke="#0000ff" stroke-width="2.0" fill="none"/>
<path d="M560.18,137.70 V143.00 M560.18,154.00 V156.50" stroke="#0000ff" stroke-width="2.0" fill="none"/>
<path d="M592.25,132.10 V136.40 M592.25,147.40 V150.80" stroke="#0000ff" stroke-width="2.0" fill="none"/>
<polygon points="381.16,182.60 382.45,186.42 386.49,186.47 383.25,188.88 384.45,192.73 381.16,190.40 377.87,192.73 379.07,188.88 375.83,186.47 379.87,186.42" fill="#000"/>
<polygon points="406.82,184.20 408.11,188.02 412.15,188.07 408.91,190.48 410.11,194.33 406.82,192.00 403.53,194.33 404.73,190.48 401.49,188.07 405.53,188.02" fill="#000"/>
<polygon points="432.48,173.25 433.77,177.07 437.81,177.12 434.57,179.53 435.77,183.38 432.48,181.05 429.19,183.38 430.39,179.53 427.15,177.12 431.19,177.07" fill="#000"/>
<polygon points="458.14,161.60 459.43,165.42 463.47,165.47 460.23,167.88 461.43,171.73 458.14,169.40 454.85,171.73 456.05,167.88 452.81,165.47 456.85,165.42" fill="#000"/>
<polygon points="483.80,154.10 485.09,157.92 489.13,157.97 485.89,160.38 487.09,164.23 483.80,161.90 480.51,164.23 481.71,160.38 478.47,157.97 482.51,157.92" fill="#000"/>
<polygon points="509.46,151.80 510.75,155.62 514.79,155.67 511.55,158.08 512.75,161.93 509.46,159.60 506.17,161.93 507.37,158.08 504.13,155.67 508.17,155.62" fill="#000"/>
<polygon points="535.12,148.30 536.41,152.12 540.45,152.17 537.21,154.58 538.41,158.43 535.12,156.10 531.83,158.43 533.03,154.58 529.79,152.17 533.83,152.12" fill="#000"/>
<polygon points="560.18,143.40 561.47,147.22 565.51,147.27 562.27,149.68 563.47,153.53 560.18,151.20 556.89,153.53 558.09,149.68 554.85,147.27 558.89,147.22" fill="#000"/>
<polygon points="592.25,136.80 593.55,140.62 597.58,140.67 594.35,143.08 595.55,146.93 592.25,144.60 588.96,146.93 590.16,143.08 586.93,140.67 590.96,140.62" fill="#000"/>
<g stroke="#000" fill="none">
<path d="M48.8,265.6 V0.8 H662.1 V265.6 Z" stroke-width="2.2"/>
<path d="M355.5,0.8 V265.6" stroke-width="2.2"/>
<path d="M48.8,253.75 h7.1 M348.4,253.75 h14.2 M662.1,253.75 h-7.1 M48.8,241.70 h14.0 M341.5,241.70 h28.0 M662.1,241.70 h-13.0 M48.8,229.65 h7.1 M348.4,229.65 h14.2 M662.1,229.65 h-7.1 M48.8,217.60 h7.1 M348.4,217.60 h14.2 M662.1,217.60 h-7.1 M48.8,205.55 h7.1 M348.4,205.55 h14.2 M662.1,205.55 h-7.1 M48.8,193.50 h14.0 M341.5,193.50 h28.0 M662.1,193.50 h-13.0 M48.8,181.45 h7.1 M348.4,181.45 h14.2 M662.1,181.45 h-7.1 M48.8,169.40 h7.1 M348.4,169.40 h14.2 M662.1,169.40 h-7.1 M48.8,157.35 h7.1 M348.4,157.35 h14.2 M662.1,157.35 h-7.1 M48.8,145.30 h14.0 M341.5,145.30 h28.0 M662.1,145.30 h-13.0 M48.8,133.25 h7.1 M348.4,133.25 h14.2 M662.1,133.25 h-7.1 M48.8,121.20 h7.1 M348.4,121.20 h14.2 M662.1,121.20 h-7.1 M48.8,109.15 h7.1 M348.4,109.15 h14.2 M662.1,109.15 h-7.1 M48.8,97.10 h14.0 M341.5,97.10 h28.0 M662.1,97.10 h-13.0 M48.8,85.05 h7.1 M348.4,85.05 h14.2 M662.1,85.05 h-7.1 M48.8,73.00 h7.1 M348.4,73.00 h14.2 M662.1,73.00 h-7.1 M48.8,60.95 h7.1 M348.4,60.95 h14.2 M662.1,60.95 h-7.1 M48.8,48.90 h14.0 M341.5,48.90 h28.0 M662.1,48.90 h-13.0 M48.8,36.85 h7.1 M348.4,36.85 h14.2 M662.1,36.85 h-7.1 M48.8,24.80 h7.1 M348.4,24.80 h14.2 M662.1,24.80 h-7.1 M48.8,12.75 h7.1 M348.4,12.75 h14.2 M662.1,12.75 h-7.1 M92.56,265.6 v-7 M92.56,0.8 v6.8 M136.38,265.6 v-7 M136.38,0.8 v6.8 M180.19,265.6 v-7 M180.19,0.8 v6.8 M224.01,265.6 v-7 M224.01,0.8 v6.8 M267.83,265.6 v-7 M267.83,0.8 v6.8 M311.64,265.6 v-7 M311.64,0.8 v6.8 M393.99,265.6 v-7 M393.99,0.8 v6.8 M432.48,265.6 v-7 M432.48,0.8 v6.8 M470.97,265.6 v-7 M470.97,0.8 v6.8 M509.46,265.6 v-7 M509.46,0.8 v6.8 M547.95,265.6 v-7 M547.95,0.8 v6.8 M586.44,265.6 v-7 M586.44,0.8 v6.8 M624.93,265.6 v-7 M624.93,0.8 v6.8" stroke-width="1.8"/>
</g>
<path transform="translate(18.00 55.40) scale(0.00850 -0.00867)" d="M806 0H525V1018Q371 879 162 813V1058Q272 1093 401 1189.5Q530 1286 578 1409H806Z" fill="#000"/>
<text transform="translate(27.68 55.40) scale(1.0 1.02)" font-size="17.4" fill="#000" stroke="#000" stroke-width="0.3">.0</text>
<text transform="translate(18.00 103.60) scale(1.0 1.02)" font-size="17.4" fill="#000" stroke="#000" stroke-width="0.3">0.8</text>
<text transform="translate(18.00 151.80) scale(1.0 1.02)" font-size="17.4" fill="#000" stroke="#000" stroke-width="0.3">0.6</text>
<text transform="translate(18.00 200.00) scale(1.0 1.02)" font-size="17.4" fill="#000" stroke="#000" stroke-width="0.3">0.4</text>
<text transform="translate(18.00 248.20) scale(1.0 1.02)" font-size="17.4" fill="#000" stroke="#000" stroke-width="0.3">0.2</text>
<text transform="translate(88.23 284.20) scale(1.0 1.02)" font-size="17.4" fill="#000" stroke="#000" stroke-width="0.3">6</text>
<text transform="translate(132.04 284.20) scale(1.0 1.02)" font-size="17.4" fill="#000" stroke="#000" stroke-width="0.3">9</text>
<path transform="translate(171.02 284.20) scale(0.00850 -0.00867)" d="M806 0H525V1018Q371 879 162 813V1058Q272 1093 401 1189.5Q530 1286 578 1409H806Z" fill="#000"/>
<text transform="translate(180.69 284.20) scale(1.0 1.02)" font-size="17.4" fill="#000" stroke="#000" stroke-width="0.3">2</text>
<path transform="translate(214.83 284.20) scale(0.00850 -0.00867)" d="M806 0H525V1018Q371 879 162 813V1058Q272 1093 401 1189.5Q530 1286 578 1409H806Z" fill="#000"/>
<text transform="translate(224.51 284.20) scale(1.0 1.02)" font-size="17.4" fill="#000" stroke="#000" stroke-width="0.3">5</text>
<path transform="translate(258.65 284.20) scale(0.00850 -0.00867)" d="M806 0H525V1018Q371 879 162 813V1058Q272 1093 401 1189.5Q530 1286 578 1409H806Z" fill="#000"/>
<text transform="translate(268.33 284.20) scale(1.0 1.02)" font-size="17.4" fill="#000" stroke="#000" stroke-width="0.3">8</text>
<text transform="translate(302.46 284.20) scale(1.0 1.02)" font-size="17.4" fill="#000" stroke="#000" stroke-width="0.3">2</text>
<path transform="translate(312.14 284.20) scale(0.00850 -0.00867)" d="M806 0H525V1018Q371 879 162 813V1058Q272 1093 401 1189.5Q530 1286 578 1409H806Z" fill="#000"/>
<text transform="translate(389.65 284.20) scale(1.0 1.02)" font-size="17.4" fill="#000" stroke="#000" stroke-width="0.3">6</text>
<text transform="translate(428.14 284.20) scale(1.0 1.02)" font-size="17.4" fill="#000" stroke="#000" stroke-width="0.3">9</text>
<path transform="translate(461.79 284.20) scale(0.00850 -0.00867)" d="M806 0H525V1018Q371 879 162 813V1058Q272 1093 401 1189.5Q530 1286 578 1409H806Z" fill="#000"/>
<text transform="translate(471.47 284.20) scale(1.0 1.02)" font-size="17.4" fill="#000" stroke="#000" stroke-width="0.3">2</text>
<path transform="translate(500.28 284.20) scale(0.00850 -0.00867)" d="M806 0H525V1018Q371 879 162 813V1058Q272 1093 401 1189.5Q530 1286 578 1409H806Z" fill="#000"/>
<text transform="translate(509.96 284.20) scale(1.0 1.02)" font-size="17.4" fill="#000" stroke="#000" stroke-width="0.3">5</text>
<path transform="translate(538.77 284.20) scale(0.00850 -0.00867)" d="M806 0H525V1018Q371 879 162 813V1058Q272 1093 401 1189.5Q530 1286 578 1409H806Z" fill="#000"/>
<text transform="translate(548.45 284.20) scale(1.0 1.02)" font-size="17.4" fill="#000" stroke="#000" stroke-width="0.3">8</text>
<text transform="translate(577.26 284.20) scale(1.0 1.02)" font-size="17.4" fill="#000" stroke="#000" stroke-width="0.3">2</text>
<path transform="translate(586.94 284.20) scale(0.00850 -0.00867)" d="M806 0H525V1018Q371 879 162 813V1058Q272 1093 401 1189.5Q530 1286 578 1409H806Z" fill="#000"/>
<text transform="translate(615.75 284.20) scale(1.0 1.02)" font-size="17.4" fill="#000" stroke="#000" stroke-width="0.3">24</text>
<text transform="translate(593.80 306.90) scale(1.05 0.985)" font-size="18.1" fill="#000" stroke="#000" stroke-width="0.3">E (GeV)</text>
<g transform="translate(17.8,25.4) rotate(-90) scale(0.84,1)">
<text transform="translate(0.00 0.00) scale(1.0 1.02)" font-size="20.2" fill="#000" stroke="#000" stroke-width="0.3">R</text>
</g>
<g transform="translate(23.6,12.9) rotate(-90) scale(1.05,1)">
<text transform="translate(0.00 0.00) scale(1.0 1.02)" font-size="13.4" fill="#000" stroke="#000" stroke-width="0.3">M</text>
</g>
<g transform="translate(9.6,11.5) rotate(-90) scale(1.06,1)">
<text transform="translate(0.00 0.00) scale(1.0 1.02)" font-size="12.6" fill="#000" stroke="#000" stroke-width="0.3">h</text>
</g>
<text transform="translate(623.90 72.00) scale(1.0 1.02)" font-size="17.7" fill="#ff0000" stroke="#ff0000" stroke-width="0.3">Ne</text>
<text transform="translate(623.90 95.70) scale(1.0 1.02)" font-size="17.5" fill="#000" stroke="#000" stroke-width="0.3">Kr</text>
<text transform="translate(610.90 110.50) scale(1.0 1.02)" font-size="17.1" fill="#000" stroke="#000" stroke-width="0.3">(-0.05)</text>
<text transform="translate(625.40 150.90) scale(1.0 1.02)" font-size="17.2" fill="#0000ff" stroke="#0000ff" stroke-width="0.3">Xe</text>
<text transform="translate(610.90 166.00) scale(1.0 1.02)" font-size="17.1" fill="#0000ff" stroke="#0000ff" stroke-width="0.3">(-0.2)</text>
<path d="M146.6,229.6 L137.0,233.6 L146.6,237.6 M155.2,229.6 L163.1,233.6 L155.2,237.6 M131.8,251.3 L122.2,255.3 L131.8,259.3 M152.2,251.3 L160.4,255.3 L152.2,259.3" stroke="#000" stroke-width="1.3" fill="none"/>
<text transform="translate(146.10 238.50) scale(1.0 1.02)" font-size="16.4" fill="#000" stroke="#000" stroke-width="0.3">z</text>
<rect x="165.27" y="231.66" width="8.46" height="1.80" fill="#000"/>
<rect x="165.27" y="235.13" width="8.46" height="1.86" fill="#000"/>
<text transform="translate(174.49 238.50) scale(1.0 1.02)" font-size="17.1" fill="#000" stroke="#000" stroke-width="0.3">0.326</text>
<text transform="translate(221.00 239.40) scale(1.0 1.02)" font-size="17.1" fill="#000" stroke="#000" stroke-width="0.3" font-weight="normal">~</text>
<text transform="translate(236.60 238.50) scale(1.0 1.02)" font-size="17.1" fill="#000" stroke="#000" stroke-width="0.3">0.583</text>
<text transform="translate(131.90 259.80) scale(1.0 1.02)" font-size="17.1" fill="#000" stroke="#000" stroke-width="0.3">O</text>
<path d="M139.25,256.21 L144.38,260.57" stroke="#000" stroke-width="2.31" fill="none"/>
<text transform="translate(145.00 251.80) scale(1.0 1.02)" font-size="11.5" fill="#000" stroke="#000" stroke-width="0.3">2</text>
<rect x="161.47" y="252.96" width="8.46" height="1.80" fill="#000"/>
<rect x="161.47" y="256.43" width="8.46" height="1.86" fill="#000"/>
<path transform="translate(170.69 259.80) scale(0.00835 -0.00852)" d="M806 0H525V1018Q371 879 162 813V1058Q272 1093 401 1189.5Q530 1286 578 1409H806Z" fill="#000"/>
<text transform="translate(180.20 259.80) scale(1.0 1.02)" font-size="17.1" fill="#000" stroke="#000" stroke-width="0.3">.889</text>
<text transform="translate(218.70 261.00) scale(1.0 1.02)" font-size="17.1" fill="#000" stroke="#000" stroke-width="0.3" font-weight="normal">~</text>
<text transform="translate(233.20 259.80) scale(1.0 1.02)" font-size="17.1" fill="#000" stroke="#000" stroke-width="0.3">2.595 GeV</text>
<text transform="translate(316.20 252.40) scale(1.0 1.02)" font-size="11.5" fill="#000" stroke="#000" stroke-width="0.3">2</text>
<path d="M419.5,220.1 H439.0" stroke="#ff0000" stroke-width="1.8" stroke-dasharray="5.8 2.3" fill="none"/>
<path d="M419.5,236.5 H439.0" stroke="#ff0000" stroke-width="2" fill="none"/>
<path d="M419.5,253.9 H439.0" stroke="#ff0000" stroke-width="1.9" stroke-dasharray="1.5 1.8" fill="none"/>
<path d="M445.0,220.1 H464.0" stroke="#000000" stroke-width="1.8" stroke-dasharray="5.8 2.3" fill="none"/>
<path d="M445.0,236.5 H464.0" stroke="#000000" stroke-width="2" fill="none"/>
<path d="M445.0,253.9 H464.0" stroke="#000000" stroke-width="1.9" stroke-dasharray="1.5 1.8" fill="none"/>
<path d="M470.7,220.1 H490.0" stroke="#0000ff" stroke-width="1.8" stroke-dasharray="5.8 2.3" fill="none"/>
<path d="M470.7,236.5 H490.0" stroke="#0000ff" stroke-width="2" fill="none"/>
<path d="M470.7,253.9 H490.0" stroke="#0000ff" stroke-width="1.9" stroke-dasharray="1.5 1.8" fill="none"/>
<text transform="translate(492.70 226.60) scale(1.0 1.02)" font-size="17.3" fill="#000" stroke="#000" stroke-width="0.3">q</text>
<path d="M494.6,216.00 l2.7,-2.6 l2.7,2.6" stroke="#000" stroke-width="1.5" fill="none"/>
<rect x="502.78" y="219.68" width="8.56" height="1.82" fill="#000"/>
<rect x="502.78" y="223.19" width="8.56" height="1.89" fill="#000"/>
<text transform="translate(512.10 226.60) scale(1.0 1.02)" font-size="17.3" fill="#000" stroke="#000" stroke-width="0.3">0.0</text>
<path transform="translate(536.15 226.60) scale(0.00845 -0.00862)" d="M806 0H525V1018Q371 879 162 813V1058Q272 1093 401 1189.5Q530 1286 578 1409H806Z" fill="#000"/>
<text transform="translate(545.77 226.60) scale(1.0 1.02)" font-size="17.3" fill="#000" stroke="#000" stroke-width="0.3">6 GeV</text>
<text transform="translate(595.30 218.20) scale(1.0 1.02)" font-size="13.0" fill="#000" stroke="#000" stroke-width="0.3">2</text>
<text transform="translate(602.50 226.60) scale(1.0 1.02)" font-size="17.0" fill="#000" stroke="#000" stroke-width="0.3">/fm</text>
<text transform="translate(492.70 243.40) scale(1.0 1.02)" font-size="17.3" fill="#000" stroke="#000" stroke-width="0.3">q</text>
<path d="M494.6,232.80 l2.7,-2.6 l2.7,2.6" stroke="#000" stroke-width="1.5" fill="none"/>
<rect x="502.78" y="236.48" width="8.56" height="1.82" fill="#000"/>
<rect x="502.78" y="239.99" width="8.56" height="1.89" fill="#000"/>
<text transform="translate(512.10 243.40) scale(1.0 1.02)" font-size="17.3" fill="#000" stroke="#000" stroke-width="0.3">0.024 GeV</text>
<text transform="translate(595.30 235.00) scale(1.0 1.02)" font-size="13.0" fill="#000" stroke="#000" stroke-width="0.3">2</text>
<text transform="translate(602.50 243.40) scale(1.0 1.02)" font-size="17.0" fill="#000" stroke="#000" stroke-width="0.3">/fm</text>
<text transform="translate(492.70 260.00) scale(1.0 1.02)" font-size="17.3" fill="#000" stroke="#000" stroke-width="0.3">q</text>
<path d="M494.6,249.40 l2.7,-2.6 l2.7,2.6" stroke="#000" stroke-width="1.5" fill="none"/>
<rect x="502.78" y="253.08" width="8.56" height="1.82" fill="#000"/>
<rect x="502.78" y="256.59" width="8.56" height="1.89" fill="#000"/>
<text transform="translate(512.10 260.00) scale(1.0 1.02)" font-size="17.3" fill="#000" stroke="#000" stroke-width="0.3">0.032 GeV</text>
<text transform="translate(595.30 251.60) scale(1.0 1.02)" font-size="13.0" fill="#000" stroke="#000" stroke-width="0.3">2</text>
<text transform="translate(602.50 260.00) scale(1.0 1.02)" font-size="17.0" fill="#000" stroke="#000" stroke-width="0.3">/fm</text>
</svg>
</body></html>
